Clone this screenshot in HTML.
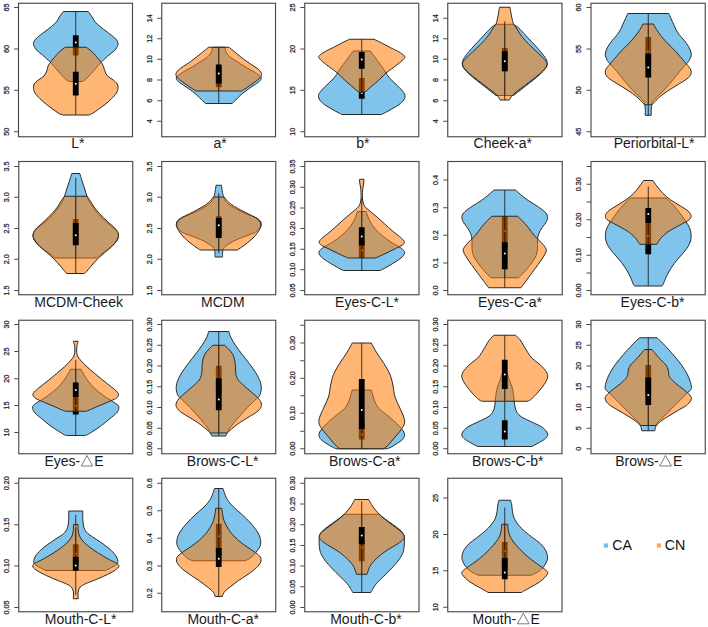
<!DOCTYPE html>
<html><head><meta charset="utf-8"><style>
html,body{margin:0;padding:0;background:#fff;}
body{width:708px;height:627px;overflow:hidden;}
svg{display:block;font-family:"Liberation Sans",sans-serif;}
</style></head><body>
<svg width="708" height="627" viewBox="0 0 708 627">
<rect width="708" height="627" fill="#fff"/>
<g>
<path d="M63.25 11.50 C62.62 12.38 60.62 15.04 59.50 16.75 C58.38 18.46 57.83 20.12 56.50 21.75 C55.17 23.38 53.58 24.75 51.50 26.50 C49.42 28.25 46.46 30.33 44.00 32.25 C41.54 34.17 38.46 36.38 36.75 38.00 C35.04 39.62 34.25 40.79 33.75 42.00 C33.25 43.21 33.25 43.88 33.75 45.25 C34.25 46.62 35.29 48.62 36.75 50.25 C38.21 51.88 40.62 53.38 42.50 55.00 C44.38 56.62 46.67 58.79 48.00 60.00 C49.33 61.21 49.12 60.75 50.50 62.25 C51.88 63.75 54.50 66.96 56.25 69.00 C58.00 71.04 59.38 72.75 61.00 74.50 C62.62 76.25 64.62 78.33 66.00 79.50 C67.38 80.67 68.71 81.17 69.25 81.50 L82.25 81.50 C82.79 81.17 84.12 80.67 85.50 79.50 C86.88 78.33 88.88 76.25 90.50 74.50 C92.12 72.75 93.50 71.04 95.25 69.00 C97.00 66.96 99.62 63.75 101.00 62.25 C102.38 60.75 102.17 61.21 103.50 60.00 C104.83 58.79 107.12 56.62 109.00 55.00 C110.88 53.38 113.29 51.88 114.75 50.25 C116.21 48.62 117.25 46.62 117.75 45.25 C118.25 43.88 118.25 43.21 117.75 42.00 C117.25 40.79 116.46 39.62 114.75 38.00 C113.04 36.38 109.96 34.17 107.50 32.25 C105.04 30.33 102.08 28.25 100.00 26.50 C97.92 24.75 96.33 23.38 95.00 21.75 C93.67 20.12 93.12 18.46 92.00 16.75 C90.88 15.04 88.88 12.38 88.25 11.50 Z" fill="#80c4ec" stroke="#2a2a2a" stroke-width="1.0" stroke-linejoin="round"/>
<line x1="75.75" y1="11.50" x2="75.75" y2="81.25" stroke="#111" stroke-width="0.8"/>
<rect x="72.85" y="35.25" width="5.8" height="20.25" fill="#000"/>
<circle cx="75.75" cy="42.50" r="1" fill="#fff"/>
<path d="M65.25 47.25 C64.29 48.00 61.54 49.79 59.50 51.75 C57.46 53.71 54.50 57.25 53.00 59.00 C51.50 60.75 51.33 61.04 50.50 62.25 C49.67 63.46 48.58 64.92 48.00 66.25 C47.42 67.58 47.67 68.62 47.00 70.25 C46.33 71.88 45.46 74.38 44.00 76.00 C42.54 77.62 39.88 78.67 38.25 80.00 C36.62 81.33 35.04 82.62 34.25 84.00 C33.46 85.38 33.38 86.75 33.50 88.25 C33.62 89.75 33.92 91.25 35.00 93.00 C36.08 94.75 38.08 96.83 40.00 98.75 C41.92 100.67 44.33 102.75 46.50 104.50 C48.67 106.25 50.96 107.79 53.00 109.25 C55.04 110.71 57.12 112.29 58.75 113.25 C60.38 114.21 62.08 114.71 62.75 115.00 L88.75 115.00 C89.42 114.71 91.12 114.21 92.75 113.25 C94.38 112.29 96.46 110.71 98.50 109.25 C100.54 107.79 102.83 106.25 105.00 104.50 C107.17 102.75 109.58 100.67 111.50 98.75 C113.42 96.83 115.42 94.75 116.50 93.00 C117.58 91.25 117.88 89.75 118.00 88.25 C118.12 86.75 118.04 85.38 117.25 84.00 C116.46 82.62 114.88 81.33 113.25 80.00 C111.62 78.67 108.96 77.62 107.50 76.00 C106.04 74.38 105.17 71.88 104.50 70.25 C103.83 68.62 104.08 67.58 103.50 66.25 C102.92 64.92 101.83 63.46 101.00 62.25 C100.17 61.04 100.00 60.75 98.50 59.00 C97.00 57.25 94.04 53.71 92.00 51.75 C89.96 49.79 87.21 48.00 86.25 47.25 Z" fill="rgba(255,120,0,0.54)" stroke="#2a2a2a" stroke-width="1.0" stroke-linejoin="round"/>
<line x1="75.75" y1="47.25" x2="75.75" y2="114.75" stroke="#111" stroke-width="0.8"/>
<rect x="72.85" y="71.75" width="5.8" height="23.75" fill="#000"/>
<circle cx="75.75" cy="83.75" r="1" fill="#fff"/>
<rect x="18.50" y="3.25" width="114.00" height="133.50" fill="none" stroke="#4a4a4a" stroke-width="1.15"/>
<line x1="14.00" y1="7.50" x2="18.50" y2="7.50" stroke="#4a4a4a" stroke-width="1"/>
<text transform="translate(8.70 7.50) rotate(-90)" text-anchor="middle" font-size="7.3" fill="#2c262c" stroke="#2c262c" stroke-width="0.25">65</text>
<line x1="14.00" y1="49.00" x2="18.50" y2="49.00" stroke="#4a4a4a" stroke-width="1"/>
<text transform="translate(8.70 49.00) rotate(-90)" text-anchor="middle" font-size="7.3" fill="#2c262c" stroke="#2c262c" stroke-width="0.25">60</text>
<line x1="14.00" y1="90.25" x2="18.50" y2="90.25" stroke="#4a4a4a" stroke-width="1"/>
<text transform="translate(8.70 90.25) rotate(-90)" text-anchor="middle" font-size="7.3" fill="#2c262c" stroke="#2c262c" stroke-width="0.25">55</text>
<line x1="14.00" y1="131.75" x2="18.50" y2="131.75" stroke="#4a4a4a" stroke-width="1"/>
<text transform="translate(8.70 131.75) rotate(-90)" text-anchor="middle" font-size="7.3" fill="#2c262c" stroke="#2c262c" stroke-width="0.25">50</text>
<text x="77.80" y="147.80" text-anchor="middle" font-size="14" fill="#1a1a1a">L*</text>
</g>
<g>
<path d="M212.25 47.25 C212.21 47.79 212.33 49.38 212.00 50.50 C211.67 51.62 211.12 52.83 210.25 54.00 C209.38 55.17 208.42 56.21 206.75 57.50 C205.08 58.79 202.62 60.21 200.25 61.75 C197.88 63.29 195.21 65.12 192.50 66.75 C189.79 68.38 186.33 70.08 184.00 71.50 C181.67 72.92 179.79 74.17 178.50 75.25 C177.21 76.33 176.29 76.96 176.25 78.00 C176.21 79.04 177.04 80.29 178.25 81.50 C179.46 82.71 181.75 84.04 183.50 85.25 C185.25 86.46 186.67 87.25 188.75 88.75 C190.83 90.25 193.83 92.38 196.00 94.25 C198.17 96.12 200.17 98.46 201.75 100.00 C203.33 101.54 204.88 102.92 205.50 103.50 L232.00 103.50 C232.62 102.92 234.17 101.54 235.75 100.00 C237.33 98.46 239.33 96.12 241.50 94.25 C243.67 92.38 246.67 90.25 248.75 88.75 C250.83 87.25 252.25 86.46 254.00 85.25 C255.75 84.04 258.04 82.71 259.25 81.50 C260.46 80.29 261.29 79.04 261.25 78.00 C261.21 76.96 260.29 76.33 259.00 75.25 C257.71 74.17 255.83 72.92 253.50 71.50 C251.17 70.08 247.71 68.38 245.00 66.75 C242.29 65.12 239.62 63.29 237.25 61.75 C234.88 60.21 232.42 58.79 230.75 57.50 C229.08 56.21 228.12 55.17 227.25 54.00 C226.38 52.83 225.83 51.62 225.50 50.50 C225.17 49.38 225.29 47.79 225.25 47.25 Z" fill="#80c4ec" stroke="#2a2a2a" stroke-width="1.0" stroke-linejoin="round"/>
<line x1="218.75" y1="47.25" x2="218.75" y2="103.50" stroke="#111" stroke-width="0.8"/>
<rect x="215.85" y="67.00" width="5.8" height="20.25" fill="#000"/>
<circle cx="218.75" cy="75.00" r="1" fill="#fff"/>
<path d="M208.50 47.25 C207.83 47.79 205.88 49.38 204.50 50.50 C203.12 51.62 202.00 52.58 200.25 54.00 C198.50 55.42 196.21 57.33 194.00 59.00 C191.79 60.67 189.25 62.46 187.00 64.00 C184.75 65.54 182.21 66.92 180.50 68.25 C178.79 69.58 177.50 70.83 176.75 72.00 C176.00 73.17 175.71 74.12 176.00 75.25 C176.29 76.38 177.17 77.46 178.50 78.75 C179.83 80.04 181.88 81.46 184.00 83.00 C186.12 84.54 189.25 86.67 191.25 88.00 C193.25 89.33 195.21 90.50 196.00 91.00 L241.50 91.00 C242.29 90.50 244.25 89.33 246.25 88.00 C248.25 86.67 251.38 84.54 253.50 83.00 C255.62 81.46 257.67 80.04 259.00 78.75 C260.33 77.46 261.21 76.38 261.50 75.25 C261.79 74.12 261.50 73.17 260.75 72.00 C260.00 70.83 258.71 69.58 257.00 68.25 C255.29 66.92 252.75 65.54 250.50 64.00 C248.25 62.46 245.71 60.67 243.50 59.00 C241.29 57.33 239.00 55.42 237.25 54.00 C235.50 52.58 234.38 51.62 233.00 50.50 C231.62 49.38 229.67 47.79 229.00 47.25 Z" fill="rgba(255,120,0,0.54)" stroke="#2a2a2a" stroke-width="1.0" stroke-linejoin="round"/>
<line x1="218.75" y1="47.25" x2="218.75" y2="91.00" stroke="#111" stroke-width="0.8"/>
<rect x="215.85" y="64.50" width="5.8" height="19.00" fill="#000"/>
<circle cx="218.75" cy="73.50" r="1" fill="#fff"/>
<rect x="161.75" y="3.25" width="113.75" height="133.50" fill="none" stroke="#4a4a4a" stroke-width="1.15"/>
<line x1="157.25" y1="18.25" x2="161.75" y2="18.25" stroke="#4a4a4a" stroke-width="1"/>
<text transform="translate(151.95 18.25) rotate(-90)" text-anchor="middle" font-size="7.3" fill="#2c262c" stroke="#2c262c" stroke-width="0.25">14</text>
<line x1="157.25" y1="38.75" x2="161.75" y2="38.75" stroke="#4a4a4a" stroke-width="1"/>
<text transform="translate(151.95 38.75) rotate(-90)" text-anchor="middle" font-size="7.3" fill="#2c262c" stroke="#2c262c" stroke-width="0.25">12</text>
<line x1="157.25" y1="59.25" x2="161.75" y2="59.25" stroke="#4a4a4a" stroke-width="1"/>
<text transform="translate(151.95 59.25) rotate(-90)" text-anchor="middle" font-size="7.3" fill="#2c262c" stroke="#2c262c" stroke-width="0.25">10</text>
<line x1="157.25" y1="80.00" x2="161.75" y2="80.00" stroke="#4a4a4a" stroke-width="1"/>
<text transform="translate(151.95 80.00) rotate(-90)" text-anchor="middle" font-size="7.3" fill="#2c262c" stroke="#2c262c" stroke-width="0.25">8</text>
<line x1="157.25" y1="100.75" x2="161.75" y2="100.75" stroke="#4a4a4a" stroke-width="1"/>
<text transform="translate(151.95 100.75) rotate(-90)" text-anchor="middle" font-size="7.3" fill="#2c262c" stroke="#2c262c" stroke-width="0.25">6</text>
<line x1="157.25" y1="121.25" x2="161.75" y2="121.25" stroke="#4a4a4a" stroke-width="1"/>
<text transform="translate(151.95 121.25) rotate(-90)" text-anchor="middle" font-size="7.3" fill="#2c262c" stroke="#2c262c" stroke-width="0.25">4</text>
<text x="220.00" y="147.80" text-anchor="middle" font-size="14" fill="#1a1a1a">a*</text>
</g>
<g>
<path d="M353.25 51.00 C352.62 51.83 350.83 54.21 349.50 56.00 C348.17 57.79 346.67 59.83 345.25 61.75 C343.83 63.67 342.29 65.62 341.00 67.50 C339.71 69.38 338.79 71.12 337.50 73.00 C336.21 74.88 335.17 76.62 333.25 78.75 C331.33 80.88 328.12 83.62 326.00 85.75 C323.88 87.88 321.75 89.83 320.50 91.50 C319.25 93.17 318.62 94.33 318.50 95.75 C318.38 97.17 318.71 98.50 319.75 100.00 C320.79 101.50 322.75 103.25 324.75 104.75 C326.75 106.25 329.54 107.71 331.75 109.00 C333.96 110.29 336.29 111.58 338.00 112.50 C339.71 113.42 341.33 114.17 342.00 114.50 L381.50 114.50 C382.17 114.17 383.79 113.42 385.50 112.50 C387.21 111.58 389.54 110.29 391.75 109.00 C393.96 107.71 396.75 106.25 398.75 104.75 C400.75 103.25 402.71 101.50 403.75 100.00 C404.79 98.50 405.12 97.17 405.00 95.75 C404.88 94.33 404.25 93.17 403.00 91.50 C401.75 89.83 399.62 87.88 397.50 85.75 C395.38 83.62 392.17 80.88 390.25 78.75 C388.33 76.62 387.29 74.88 386.00 73.00 C384.71 71.12 383.79 69.38 382.50 67.50 C381.21 65.62 379.67 63.67 378.25 61.75 C376.83 59.83 375.33 57.79 374.00 56.00 C372.67 54.21 370.88 51.83 370.25 51.00 Z" fill="#80c4ec" stroke="#2a2a2a" stroke-width="1.0" stroke-linejoin="round"/>
<line x1="361.75" y1="51.00" x2="361.75" y2="114.50" stroke="#111" stroke-width="0.8"/>
<rect x="358.85" y="78.00" width="5.8" height="20.75" fill="#000"/>
<circle cx="361.75" cy="93.00" r="1" fill="#fff"/>
<path d="M349.50 39.25 C348.21 39.88 344.46 41.62 341.75 43.00 C339.04 44.38 336.08 46.04 333.25 47.50 C330.42 48.96 327.00 50.46 324.75 51.75 C322.50 53.04 320.75 54.33 319.75 55.25 C318.75 56.17 318.62 56.50 318.75 57.25 C318.88 58.00 319.38 58.62 320.50 59.75 C321.62 60.88 323.62 62.50 325.50 64.00 C327.38 65.50 329.75 67.25 331.75 68.75 C333.75 70.25 335.71 71.46 337.50 73.00 C339.29 74.54 340.75 76.33 342.50 78.00 C344.25 79.67 346.25 81.46 348.00 83.00 C349.75 84.54 351.46 85.92 353.00 87.25 C354.54 88.58 356.17 90.17 357.25 91.00 C358.33 91.83 359.12 92.04 359.50 92.25 L364.00 92.25 C364.38 92.04 365.17 91.83 366.25 91.00 C367.33 90.17 368.96 88.58 370.50 87.25 C372.04 85.92 373.75 84.54 375.50 83.00 C377.25 81.46 379.25 79.67 381.00 78.00 C382.75 76.33 384.21 74.54 386.00 73.00 C387.79 71.46 389.75 70.25 391.75 68.75 C393.75 67.25 396.12 65.50 398.00 64.00 C399.88 62.50 401.88 60.88 403.00 59.75 C404.12 58.62 404.62 58.00 404.75 57.25 C404.88 56.50 404.75 56.17 403.75 55.25 C402.75 54.33 401.00 53.04 398.75 51.75 C396.50 50.46 393.08 48.96 390.25 47.50 C387.42 46.04 384.46 44.38 381.75 43.00 C379.04 41.62 375.29 39.88 374.00 39.25 Z" fill="rgba(255,120,0,0.54)" stroke="#2a2a2a" stroke-width="1.0" stroke-linejoin="round"/>
<line x1="361.75" y1="39.25" x2="361.75" y2="93.00" stroke="#111" stroke-width="0.8"/>
<rect x="358.85" y="52.00" width="5.8" height="16.75" fill="#000"/>
<circle cx="361.75" cy="59.50" r="1" fill="#fff"/>
<rect x="304.75" y="3.25" width="114.00" height="133.50" fill="none" stroke="#4a4a4a" stroke-width="1.15"/>
<line x1="300.25" y1="7.50" x2="304.75" y2="7.50" stroke="#4a4a4a" stroke-width="1"/>
<text transform="translate(294.95 7.50) rotate(-90)" text-anchor="middle" font-size="7.3" fill="#2c262c" stroke="#2c262c" stroke-width="0.25">25</text>
<line x1="300.25" y1="49.00" x2="304.75" y2="49.00" stroke="#4a4a4a" stroke-width="1"/>
<text transform="translate(294.95 49.00) rotate(-90)" text-anchor="middle" font-size="7.3" fill="#2c262c" stroke="#2c262c" stroke-width="0.25">20</text>
<line x1="300.25" y1="90.25" x2="304.75" y2="90.25" stroke="#4a4a4a" stroke-width="1"/>
<text transform="translate(294.95 90.25) rotate(-90)" text-anchor="middle" font-size="7.3" fill="#2c262c" stroke="#2c262c" stroke-width="0.25">15</text>
<line x1="300.25" y1="131.75" x2="304.75" y2="131.75" stroke="#4a4a4a" stroke-width="1"/>
<text transform="translate(294.95 131.75) rotate(-90)" text-anchor="middle" font-size="7.3" fill="#2c262c" stroke="#2c262c" stroke-width="0.25">10</text>
<text x="362.75" y="147.80" text-anchor="middle" font-size="14" fill="#1a1a1a">b*</text>
</g>
<g>
<path d="M496.00 24.25 C495.12 24.88 492.83 26.08 490.75 28.00 C488.67 29.92 486.00 33.08 483.50 35.75 C481.00 38.42 478.29 41.21 475.75 44.00 C473.21 46.79 470.29 50.00 468.25 52.50 C466.21 55.00 464.50 57.12 463.50 59.00 C462.50 60.88 462.17 62.17 462.25 63.75 C462.33 65.33 462.75 66.71 464.00 68.50 C465.25 70.29 467.62 72.50 469.75 74.50 C471.88 76.50 474.33 78.54 476.75 80.50 C479.17 82.46 481.96 84.46 484.25 86.25 C486.54 88.04 488.54 89.71 490.50 91.25 C492.46 92.79 495.08 94.79 496.00 95.50 L513.50 95.50 C514.42 94.79 517.04 92.79 519.00 91.25 C520.96 89.71 522.96 88.04 525.25 86.25 C527.54 84.46 530.33 82.46 532.75 80.50 C535.17 78.54 537.62 76.50 539.75 74.50 C541.88 72.50 544.25 70.29 545.50 68.50 C546.75 66.71 547.17 65.33 547.25 63.75 C547.33 62.17 547.00 60.88 546.00 59.00 C545.00 57.12 543.29 55.00 541.25 52.50 C539.21 50.00 536.29 46.79 533.75 44.00 C531.21 41.21 528.50 38.42 526.00 35.75 C523.50 33.08 520.83 29.92 518.75 28.00 C516.67 26.08 514.38 24.88 513.50 24.25 Z" fill="#80c4ec" stroke="#2a2a2a" stroke-width="1.0" stroke-linejoin="round"/>
<line x1="504.75" y1="24.25" x2="504.75" y2="95.75" stroke="#111" stroke-width="0.8"/>
<rect x="501.85" y="48.00" width="5.8" height="23.25" fill="#000"/>
<circle cx="504.75" cy="60.00" r="1" fill="#fff"/>
<path d="M499.50 7.25 C499.29 8.50 498.67 12.54 498.25 14.75 C497.83 16.96 497.38 18.92 497.00 20.50 C496.62 22.08 496.67 23.00 496.00 24.25 C495.33 25.50 494.08 26.38 493.00 28.00 C491.92 29.62 491.00 31.88 489.50 34.00 C488.00 36.12 486.17 38.38 484.00 40.75 C481.83 43.12 479.08 45.75 476.50 48.25 C473.92 50.75 470.62 53.67 468.50 55.75 C466.38 57.83 464.75 59.33 463.75 60.75 C462.75 62.17 462.42 63.00 462.50 64.25 C462.58 65.50 463.00 66.62 464.25 68.25 C465.50 69.88 467.79 72.04 470.00 74.00 C472.21 75.96 475.00 78.04 477.50 80.00 C480.00 81.96 482.62 83.96 485.00 85.75 C487.38 87.54 489.79 89.21 491.75 90.75 C493.71 92.29 495.50 93.75 496.75 95.00 C498.00 96.25 498.71 97.42 499.25 98.25 C499.79 99.08 499.88 99.71 500.00 100.00 L509.50 100.00 C509.62 99.71 509.71 99.08 510.25 98.25 C510.79 97.42 511.50 96.25 512.75 95.00 C514.00 93.75 515.79 92.29 517.75 90.75 C519.71 89.21 522.12 87.54 524.50 85.75 C526.88 83.96 529.50 81.96 532.00 80.00 C534.50 78.04 537.29 75.96 539.50 74.00 C541.71 72.04 544.00 69.88 545.25 68.25 C546.50 66.62 546.92 65.50 547.00 64.25 C547.08 63.00 546.75 62.17 545.75 60.75 C544.75 59.33 543.12 57.83 541.00 55.75 C538.88 53.67 535.58 50.75 533.00 48.25 C530.42 45.75 527.67 43.12 525.50 40.75 C523.33 38.38 521.50 36.12 520.00 34.00 C518.50 31.88 517.58 29.62 516.50 28.00 C515.42 26.38 514.17 25.50 513.50 24.25 C512.83 23.00 512.88 22.08 512.50 20.50 C512.12 18.92 511.67 16.96 511.25 14.75 C510.83 12.54 510.21 8.50 510.00 7.25 Z" fill="rgba(255,120,0,0.54)" stroke="#2a2a2a" stroke-width="1.0" stroke-linejoin="round"/>
<line x1="504.75" y1="21.25" x2="504.75" y2="100.00" stroke="#111" stroke-width="0.8"/>
<rect x="501.85" y="51.25" width="5.8" height="20.00" fill="#000"/>
<circle cx="504.75" cy="61.25" r="1" fill="#fff"/>
<rect x="447.75" y="3.25" width="114.25" height="133.50" fill="none" stroke="#4a4a4a" stroke-width="1.15"/>
<line x1="443.25" y1="18.25" x2="447.75" y2="18.25" stroke="#4a4a4a" stroke-width="1"/>
<text transform="translate(437.95 18.25) rotate(-90)" text-anchor="middle" font-size="7.3" fill="#2c262c" stroke="#2c262c" stroke-width="0.25">14</text>
<line x1="443.25" y1="38.75" x2="447.75" y2="38.75" stroke="#4a4a4a" stroke-width="1"/>
<text transform="translate(437.95 38.75) rotate(-90)" text-anchor="middle" font-size="7.3" fill="#2c262c" stroke="#2c262c" stroke-width="0.25">12</text>
<line x1="443.25" y1="59.25" x2="447.75" y2="59.25" stroke="#4a4a4a" stroke-width="1"/>
<text transform="translate(437.95 59.25) rotate(-90)" text-anchor="middle" font-size="7.3" fill="#2c262c" stroke="#2c262c" stroke-width="0.25">10</text>
<line x1="443.25" y1="80.00" x2="447.75" y2="80.00" stroke="#4a4a4a" stroke-width="1"/>
<text transform="translate(437.95 80.00) rotate(-90)" text-anchor="middle" font-size="7.3" fill="#2c262c" stroke="#2c262c" stroke-width="0.25">8</text>
<line x1="443.25" y1="100.75" x2="447.75" y2="100.75" stroke="#4a4a4a" stroke-width="1"/>
<text transform="translate(437.95 100.75) rotate(-90)" text-anchor="middle" font-size="7.3" fill="#2c262c" stroke="#2c262c" stroke-width="0.25">6</text>
<line x1="443.25" y1="121.25" x2="447.75" y2="121.25" stroke="#4a4a4a" stroke-width="1"/>
<text transform="translate(437.95 121.25) rotate(-90)" text-anchor="middle" font-size="7.3" fill="#2c262c" stroke="#2c262c" stroke-width="0.25">4</text>
<text x="502.75" y="147.80" text-anchor="middle" font-size="14" fill="#1a1a1a">Cheek-a*</text>
</g>
<g>
<path d="M627.75 13.50 C627.38 14.33 626.33 16.67 625.50 18.50 C624.67 20.33 623.58 22.67 622.75 24.50 C621.92 26.33 621.42 27.79 620.50 29.50 C619.58 31.21 618.67 32.88 617.25 34.75 C615.83 36.62 613.54 38.79 612.00 40.75 C610.46 42.71 609.00 44.79 608.00 46.50 C607.00 48.21 606.46 49.54 606.00 51.00 C605.54 52.46 605.08 53.79 605.25 55.25 C605.42 56.71 606.25 58.38 607.00 59.75 C607.75 61.12 608.21 61.67 609.75 63.50 C611.29 65.33 613.96 68.04 616.25 70.75 C618.54 73.46 620.96 76.71 623.50 79.75 C626.04 82.79 628.96 86.25 631.50 89.00 C634.04 91.75 636.79 94.29 638.75 96.25 C640.71 98.21 642.25 99.38 643.25 100.75 C644.25 102.12 644.42 103.12 644.75 104.50 C645.08 105.88 645.17 107.21 645.25 109.00 C645.33 110.79 645.25 114.21 645.25 115.25 L651.25 115.25 C651.25 114.21 651.17 110.79 651.25 109.00 C651.33 107.21 651.42 105.88 651.75 104.50 C652.08 103.12 652.25 102.12 653.25 100.75 C654.25 99.38 655.79 98.21 657.75 96.25 C659.71 94.29 662.46 91.75 665.00 89.00 C667.54 86.25 670.46 82.79 673.00 79.75 C675.54 76.71 677.96 73.46 680.25 70.75 C682.54 68.04 685.21 65.33 686.75 63.50 C688.29 61.67 688.75 61.12 689.50 59.75 C690.25 58.38 691.08 56.71 691.25 55.25 C691.42 53.79 690.96 52.46 690.50 51.00 C690.04 49.54 689.50 48.21 688.50 46.50 C687.50 44.79 686.04 42.71 684.50 40.75 C682.96 38.79 680.67 36.62 679.25 34.75 C677.83 32.88 676.92 31.21 676.00 29.50 C675.08 27.79 674.58 26.33 673.75 24.50 C672.92 22.67 671.83 20.33 671.00 18.50 C670.17 16.67 669.12 14.33 668.75 13.50 Z" fill="#80c4ec" stroke="#2a2a2a" stroke-width="1.0" stroke-linejoin="round"/>
<line x1="648.25" y1="13.75" x2="648.25" y2="115.50" stroke="#111" stroke-width="0.8"/>
<rect x="645.35" y="37.00" width="5.8" height="28.00" fill="#000"/>
<circle cx="648.25" cy="51.25" r="1" fill="#fff"/>
<path d="M643.00 24.00 C642.50 24.92 641.33 27.42 640.00 29.50 C638.67 31.58 636.96 34.08 635.00 36.50 C633.04 38.92 630.67 41.46 628.25 44.00 C625.83 46.54 622.46 49.67 620.50 51.75 C618.54 53.83 618.29 54.42 616.50 56.50 C614.71 58.58 611.46 62.21 609.75 64.25 C608.04 66.29 607.00 67.38 606.25 68.75 C605.50 70.12 605.17 71.25 605.25 72.50 C605.33 73.75 605.83 75.04 606.75 76.25 C607.67 77.46 608.88 78.42 610.75 79.75 C612.62 81.08 615.58 82.75 618.00 84.25 C620.42 85.75 622.83 87.21 625.25 88.75 C627.67 90.29 630.38 91.96 632.50 93.50 C634.62 95.04 636.33 96.50 638.00 98.00 C639.67 99.50 641.42 101.38 642.50 102.50 C643.58 103.62 644.17 104.38 644.50 104.75 L652.00 104.75 C652.33 104.38 652.92 103.62 654.00 102.50 C655.08 101.38 656.83 99.50 658.50 98.00 C660.17 96.50 661.88 95.04 664.00 93.50 C666.12 91.96 668.83 90.29 671.25 88.75 C673.67 87.21 676.08 85.75 678.50 84.25 C680.92 82.75 683.88 81.08 685.75 79.75 C687.62 78.42 688.83 77.46 689.75 76.25 C690.67 75.04 691.17 73.75 691.25 72.50 C691.33 71.25 691.00 70.12 690.25 68.75 C689.50 67.38 688.46 66.29 686.75 64.25 C685.04 62.21 681.79 58.58 680.00 56.50 C678.21 54.42 677.96 53.83 676.00 51.75 C674.04 49.67 670.67 46.54 668.25 44.00 C665.83 41.46 663.46 38.92 661.50 36.50 C659.54 34.08 657.83 31.58 656.50 29.50 C655.17 27.42 654.00 24.92 653.50 24.00 Z" fill="rgba(255,120,0,0.54)" stroke="#2a2a2a" stroke-width="1.0" stroke-linejoin="round"/>
<line x1="648.25" y1="24.25" x2="648.25" y2="103.75" stroke="#111" stroke-width="0.8"/>
<rect x="645.35" y="53.75" width="5.8" height="23.75" fill="#000"/>
<circle cx="648.25" cy="67.50" r="1" fill="#fff"/>
<rect x="591.00" y="3.25" width="114.25" height="133.50" fill="none" stroke="#4a4a4a" stroke-width="1.15"/>
<line x1="586.50" y1="7.50" x2="591.00" y2="7.50" stroke="#4a4a4a" stroke-width="1"/>
<text transform="translate(581.20 7.50) rotate(-90)" text-anchor="middle" font-size="7.3" fill="#2c262c" stroke="#2c262c" stroke-width="0.25">60</text>
<line x1="586.50" y1="49.00" x2="591.00" y2="49.00" stroke="#4a4a4a" stroke-width="1"/>
<text transform="translate(581.20 49.00) rotate(-90)" text-anchor="middle" font-size="7.3" fill="#2c262c" stroke="#2c262c" stroke-width="0.25">55</text>
<line x1="586.50" y1="90.25" x2="591.00" y2="90.25" stroke="#4a4a4a" stroke-width="1"/>
<text transform="translate(581.20 90.25) rotate(-90)" text-anchor="middle" font-size="7.3" fill="#2c262c" stroke="#2c262c" stroke-width="0.25">50</text>
<line x1="586.50" y1="131.75" x2="591.00" y2="131.75" stroke="#4a4a4a" stroke-width="1"/>
<text transform="translate(581.20 131.75) rotate(-90)" text-anchor="middle" font-size="7.3" fill="#2c262c" stroke="#2c262c" stroke-width="0.25">45</text>
<text x="654.10" y="147.80" text-anchor="middle" font-size="14" fill="#1a1a1a">Periorbital-L*</text>
</g>
<g>
<path d="M71.75 173.50 C71.38 174.71 70.33 178.17 69.50 180.75 C68.67 183.33 67.58 186.42 66.75 189.00 C65.92 191.58 65.25 194.17 64.50 196.25 C63.75 198.33 63.54 199.25 62.25 201.50 C60.96 203.75 58.88 207.00 56.75 209.75 C54.62 212.50 51.92 215.58 49.50 218.00 C47.08 220.42 44.50 222.29 42.25 224.25 C40.00 226.21 37.50 228.04 36.00 229.75 C34.50 231.46 33.62 232.96 33.25 234.50 C32.88 236.04 33.17 237.50 33.75 239.00 C34.33 240.50 35.17 241.83 36.75 243.50 C38.33 245.17 40.96 247.17 43.25 249.00 C45.54 250.83 48.58 253.00 50.50 254.50 C52.42 256.00 54.04 257.42 54.75 258.00 L96.75 258.00 C97.46 257.42 99.08 256.00 101.00 254.50 C102.92 253.00 105.96 250.83 108.25 249.00 C110.54 247.17 113.17 245.17 114.75 243.50 C116.33 241.83 117.17 240.50 117.75 239.00 C118.33 237.50 118.62 236.04 118.25 234.50 C117.88 232.96 117.00 231.46 115.50 229.75 C114.00 228.04 111.50 226.21 109.25 224.25 C107.00 222.29 104.42 220.42 102.00 218.00 C99.58 215.58 96.88 212.50 94.75 209.75 C92.62 207.00 90.54 203.75 89.25 201.50 C87.96 199.25 87.75 198.33 87.00 196.25 C86.25 194.17 85.58 191.58 84.75 189.00 C83.92 186.42 82.83 183.33 82.00 180.75 C81.17 178.17 80.12 174.71 79.75 173.50 Z" fill="#80c4ec" stroke="#2a2a2a" stroke-width="1.0" stroke-linejoin="round"/>
<line x1="75.75" y1="178.00" x2="75.75" y2="258.50" stroke="#111" stroke-width="0.8"/>
<rect x="72.85" y="219.00" width="5.8" height="24.50" fill="#000"/>
<circle cx="75.75" cy="233.50" r="1" fill="#fff"/>
<path d="M64.50 196.25 C63.96 197.00 62.42 198.96 61.25 200.75 C60.08 202.54 59.04 204.88 57.50 207.00 C55.96 209.12 54.25 211.08 52.00 213.50 C49.75 215.92 46.54 219.08 44.00 221.50 C41.46 223.92 38.50 226.17 36.75 228.00 C35.00 229.83 34.12 231.12 33.50 232.50 C32.88 233.88 32.75 234.88 33.00 236.25 C33.25 237.62 33.92 239.08 35.00 240.75 C36.08 242.42 37.54 244.29 39.50 246.25 C41.46 248.21 44.33 250.38 46.75 252.50 C49.17 254.62 51.71 256.71 54.00 259.00 C56.29 261.29 58.54 264.00 60.50 266.25 C62.46 268.50 64.67 271.29 65.75 272.50 C66.83 273.71 66.79 273.33 67.00 273.50 L84.50 273.50 C84.71 273.33 84.67 273.71 85.75 272.50 C86.83 271.29 89.04 268.50 91.00 266.25 C92.96 264.00 95.21 261.29 97.50 259.00 C99.79 256.71 102.33 254.62 104.75 252.50 C107.17 250.38 110.04 248.21 112.00 246.25 C113.96 244.29 115.42 242.42 116.50 240.75 C117.58 239.08 118.25 237.62 118.50 236.25 C118.75 234.88 118.62 233.88 118.00 232.50 C117.38 231.12 116.50 229.83 114.75 228.00 C113.00 226.17 110.04 223.92 107.50 221.50 C104.96 219.08 101.75 215.92 99.50 213.50 C97.25 211.08 95.54 209.12 94.00 207.00 C92.46 204.88 91.42 202.54 90.25 200.75 C89.08 198.96 87.54 197.00 87.00 196.25 Z" fill="rgba(255,120,0,0.54)" stroke="#2a2a2a" stroke-width="1.0" stroke-linejoin="round"/>
<line x1="75.75" y1="196.50" x2="75.75" y2="273.50" stroke="#111" stroke-width="0.8"/>
<rect x="72.85" y="223.00" width="5.8" height="22.25" fill="#000"/>
<circle cx="75.75" cy="235.25" r="1" fill="#fff"/>
<rect x="18.75" y="161.50" width="114.00" height="133.25" fill="none" stroke="#4a4a4a" stroke-width="1.15"/>
<line x1="14.25" y1="166.50" x2="18.75" y2="166.50" stroke="#4a4a4a" stroke-width="1"/>
<text transform="translate(8.95 166.50) rotate(-90)" text-anchor="middle" font-size="7.3" fill="#2c262c" stroke="#2c262c" stroke-width="0.25">3.5</text>
<line x1="14.25" y1="197.25" x2="18.75" y2="197.25" stroke="#4a4a4a" stroke-width="1"/>
<text transform="translate(8.95 197.25) rotate(-90)" text-anchor="middle" font-size="7.3" fill="#2c262c" stroke="#2c262c" stroke-width="0.25">3.0</text>
<line x1="14.25" y1="228.50" x2="18.75" y2="228.50" stroke="#4a4a4a" stroke-width="1"/>
<text transform="translate(8.95 228.50) rotate(-90)" text-anchor="middle" font-size="7.3" fill="#2c262c" stroke="#2c262c" stroke-width="0.25">2.5</text>
<line x1="14.25" y1="259.25" x2="18.75" y2="259.25" stroke="#4a4a4a" stroke-width="1"/>
<text transform="translate(8.95 259.25) rotate(-90)" text-anchor="middle" font-size="7.3" fill="#2c262c" stroke="#2c262c" stroke-width="0.25">2.0</text>
<line x1="14.25" y1="290.50" x2="18.75" y2="290.50" stroke="#4a4a4a" stroke-width="1"/>
<text transform="translate(8.95 290.50) rotate(-90)" text-anchor="middle" font-size="7.3" fill="#2c262c" stroke="#2c262c" stroke-width="0.25">1.5</text>
<text x="78.60" y="306.70" text-anchor="middle" font-size="14" fill="#1a1a1a">MCDM-Cheek</text>
</g>
<g>
<path d="M216.00 185.25 C215.92 185.92 215.75 187.62 215.50 189.25 C215.25 190.88 214.79 193.71 214.50 195.00 C214.21 196.29 214.00 196.25 213.75 197.00 C213.50 197.75 213.46 198.62 213.00 199.50 C212.54 200.38 211.92 201.29 211.00 202.25 C210.08 203.21 209.04 204.17 207.50 205.25 C205.96 206.33 203.79 207.62 201.75 208.75 C199.71 209.88 197.54 210.92 195.25 212.00 C192.96 213.08 190.29 214.29 188.00 215.25 C185.71 216.21 183.25 216.83 181.50 217.75 C179.75 218.67 178.38 219.62 177.50 220.75 C176.62 221.88 176.17 223.17 176.25 224.50 C176.33 225.83 177.00 227.46 178.00 228.75 C179.00 230.04 180.33 231.17 182.25 232.25 C184.17 233.33 187.08 234.29 189.50 235.25 C191.92 236.21 194.38 237.04 196.75 238.00 C199.12 238.96 201.62 239.92 203.75 241.00 C205.88 242.08 207.83 243.33 209.50 244.50 C211.17 245.67 212.92 247.04 213.75 248.00 C214.58 248.96 214.29 249.38 214.50 250.25 C214.71 251.12 214.92 252.12 215.00 253.25 C215.08 254.38 215.00 256.38 215.00 257.00 L222.50 257.00 C222.50 256.38 222.42 254.38 222.50 253.25 C222.58 252.12 222.79 251.12 223.00 250.25 C223.21 249.38 222.92 248.96 223.75 248.00 C224.58 247.04 226.33 245.67 228.00 244.50 C229.67 243.33 231.62 242.08 233.75 241.00 C235.88 239.92 238.38 238.96 240.75 238.00 C243.12 237.04 245.58 236.21 248.00 235.25 C250.42 234.29 253.33 233.33 255.25 232.25 C257.17 231.17 258.50 230.04 259.50 228.75 C260.50 227.46 261.17 225.83 261.25 224.50 C261.33 223.17 260.88 221.88 260.00 220.75 C259.12 219.62 257.75 218.67 256.00 217.75 C254.25 216.83 251.79 216.21 249.50 215.25 C247.21 214.29 244.54 213.08 242.25 212.00 C239.96 210.92 237.79 209.88 235.75 208.75 C233.71 207.62 231.54 206.33 230.00 205.25 C228.46 204.17 227.42 203.21 226.50 202.25 C225.58 201.29 224.96 200.38 224.50 199.50 C224.04 198.62 224.00 197.75 223.75 197.00 C223.50 196.25 223.29 196.29 223.00 195.00 C222.71 193.71 222.25 190.88 222.00 189.25 C221.75 187.62 221.58 185.92 221.50 185.25 Z" fill="#80c4ec" stroke="#2a2a2a" stroke-width="1.0" stroke-linejoin="round"/>
<line x1="218.75" y1="193.00" x2="218.75" y2="253.25" stroke="#111" stroke-width="0.8"/>
<rect x="215.85" y="216.25" width="5.8" height="19.75" fill="#000"/>
<circle cx="218.75" cy="224.75" r="1" fill="#fff"/>
<path d="M213.25 197.00 C212.88 197.50 211.88 199.00 211.00 200.00 C210.12 201.00 209.33 201.92 208.00 203.00 C206.67 204.08 204.88 205.33 203.00 206.50 C201.12 207.67 199.00 208.79 196.75 210.00 C194.50 211.21 191.88 212.54 189.50 213.75 C187.12 214.96 184.38 216.08 182.50 217.25 C180.62 218.42 179.21 219.67 178.25 220.75 C177.29 221.83 176.92 222.54 176.75 223.75 C176.58 224.96 176.67 226.46 177.25 228.00 C177.83 229.54 179.04 231.33 180.25 233.00 C181.46 234.67 182.83 236.33 184.50 238.00 C186.17 239.67 188.33 241.46 190.25 243.00 C192.17 244.54 194.33 246.08 196.00 247.25 C197.67 248.42 199.54 249.54 200.25 250.00 L237.25 250.00 C237.96 249.54 239.83 248.42 241.50 247.25 C243.17 246.08 245.33 244.54 247.25 243.00 C249.17 241.46 251.33 239.67 253.00 238.00 C254.67 236.33 256.04 234.67 257.25 233.00 C258.46 231.33 259.67 229.54 260.25 228.00 C260.83 226.46 260.92 224.96 260.75 223.75 C260.58 222.54 260.21 221.83 259.25 220.75 C258.29 219.67 256.88 218.42 255.00 217.25 C253.12 216.08 250.38 214.96 248.00 213.75 C245.62 212.54 243.00 211.21 240.75 210.00 C238.50 208.79 236.38 207.67 234.50 206.50 C232.62 205.33 230.83 204.08 229.50 203.00 C228.17 201.92 227.38 201.00 226.50 200.00 C225.62 199.00 224.62 197.50 224.25 197.00 Z" fill="rgba(255,120,0,0.54)" stroke="#2a2a2a" stroke-width="1.0" stroke-linejoin="round"/>
<line x1="218.75" y1="197.00" x2="218.75" y2="250.00" stroke="#111" stroke-width="0.8"/>
<rect x="215.85" y="218.00" width="5.8" height="20.00" fill="#000"/>
<circle cx="218.75" cy="225.25" r="1" fill="#fff"/>
<rect x="161.75" y="161.50" width="114.00" height="133.25" fill="none" stroke="#4a4a4a" stroke-width="1.15"/>
<line x1="157.25" y1="166.50" x2="161.75" y2="166.50" stroke="#4a4a4a" stroke-width="1"/>
<text transform="translate(151.95 166.50) rotate(-90)" text-anchor="middle" font-size="7.3" fill="#2c262c" stroke="#2c262c" stroke-width="0.25">3.5</text>
<line x1="157.25" y1="197.25" x2="161.75" y2="197.25" stroke="#4a4a4a" stroke-width="1"/>
<text transform="translate(151.95 197.25) rotate(-90)" text-anchor="middle" font-size="7.3" fill="#2c262c" stroke="#2c262c" stroke-width="0.25">3.0</text>
<line x1="157.25" y1="228.50" x2="161.75" y2="228.50" stroke="#4a4a4a" stroke-width="1"/>
<text transform="translate(151.95 228.50) rotate(-90)" text-anchor="middle" font-size="7.3" fill="#2c262c" stroke="#2c262c" stroke-width="0.25">2.5</text>
<line x1="157.25" y1="259.25" x2="161.75" y2="259.25" stroke="#4a4a4a" stroke-width="1"/>
<text transform="translate(151.95 259.25) rotate(-90)" text-anchor="middle" font-size="7.3" fill="#2c262c" stroke="#2c262c" stroke-width="0.25">2.0</text>
<line x1="157.25" y1="290.50" x2="161.75" y2="290.50" stroke="#4a4a4a" stroke-width="1"/>
<text transform="translate(151.95 290.50) rotate(-90)" text-anchor="middle" font-size="7.3" fill="#2c262c" stroke="#2c262c" stroke-width="0.25">1.5</text>
<text x="222.80" y="306.70" text-anchor="middle" font-size="14" fill="#1a1a1a">MCDM</text>
</g>
<g>
<path d="M357.25 211.50 C357.00 212.33 356.50 214.62 355.75 216.50 C355.00 218.38 354.04 220.62 352.75 222.75 C351.46 224.88 349.88 227.12 348.00 229.25 C346.12 231.38 344.04 233.38 341.50 235.50 C338.96 237.62 335.79 240.00 332.75 242.00 C329.71 244.00 325.50 245.96 323.25 247.50 C321.00 249.04 319.92 250.17 319.25 251.25 C318.58 252.33 318.71 252.88 319.25 254.00 C319.79 255.12 320.79 256.54 322.50 258.00 C324.21 259.46 327.00 261.17 329.50 262.75 C332.00 264.33 335.21 266.21 337.50 267.50 C339.79 268.79 342.29 270.00 343.25 270.50 L380.25 270.50 C381.21 270.00 383.71 268.79 386.00 267.50 C388.29 266.21 391.50 264.33 394.00 262.75 C396.50 261.17 399.29 259.46 401.00 258.00 C402.71 256.54 403.71 255.12 404.25 254.00 C404.79 252.88 404.92 252.33 404.25 251.25 C403.58 250.17 402.50 249.04 400.25 247.50 C398.00 245.96 393.79 244.00 390.75 242.00 C387.71 240.00 384.54 237.62 382.00 235.50 C379.46 233.38 377.38 231.38 375.50 229.25 C373.62 227.12 372.04 224.88 370.75 222.75 C369.46 220.62 368.50 218.38 367.75 216.50 C367.00 214.62 366.50 212.33 366.25 211.50 Z" fill="#80c4ec" stroke="#2a2a2a" stroke-width="1.0" stroke-linejoin="round"/>
<line x1="361.75" y1="211.50" x2="361.75" y2="270.50" stroke="#111" stroke-width="0.8"/>
<rect x="358.85" y="241.00" width="5.8" height="17.00" fill="#000"/>
<circle cx="361.75" cy="250.50" r="1" fill="#fff"/>
<path d="M359.50 179.25 C359.54 179.88 359.58 181.71 359.75 183.00 C359.92 184.29 360.29 185.42 360.50 187.00 C360.71 188.58 360.92 190.50 361.00 192.50 C361.08 194.50 361.21 197.00 361.00 199.00 C360.79 201.00 360.33 203.04 359.75 204.50 C359.17 205.96 358.67 206.54 357.50 207.75 C356.33 208.96 354.62 210.17 352.75 211.75 C350.88 213.33 348.54 215.25 346.25 217.25 C343.96 219.25 341.50 221.50 339.00 223.75 C336.50 226.00 333.75 228.62 331.25 230.75 C328.75 232.88 325.88 234.92 324.00 236.50 C322.12 238.08 320.79 239.21 320.00 240.25 C319.21 241.29 319.00 241.92 319.25 242.75 C319.50 243.58 320.04 244.29 321.50 245.25 C322.96 246.21 325.33 247.17 328.00 248.50 C330.67 249.83 334.83 251.96 337.50 253.25 C340.17 254.54 342.25 255.46 344.00 256.25 C345.75 257.04 347.33 257.71 348.00 258.00 L375.50 258.00 C376.17 257.71 377.75 257.04 379.50 256.25 C381.25 255.46 383.33 254.54 386.00 253.25 C388.67 251.96 392.83 249.83 395.50 248.50 C398.17 247.17 400.54 246.21 402.00 245.25 C403.46 244.29 404.00 243.58 404.25 242.75 C404.50 241.92 404.29 241.29 403.50 240.25 C402.71 239.21 401.38 238.08 399.50 236.50 C397.62 234.92 394.75 232.88 392.25 230.75 C389.75 228.62 387.00 226.00 384.50 223.75 C382.00 221.50 379.54 219.25 377.25 217.25 C374.96 215.25 372.62 213.33 370.75 211.75 C368.88 210.17 367.17 208.96 366.00 207.75 C364.83 206.54 364.33 205.96 363.75 204.50 C363.17 203.04 362.71 201.00 362.50 199.00 C362.29 197.00 362.42 194.50 362.50 192.50 C362.58 190.50 362.79 188.58 363.00 187.00 C363.21 185.42 363.58 184.29 363.75 183.00 C363.92 181.71 363.96 179.88 364.00 179.25 Z" fill="rgba(255,120,0,0.54)" stroke="#2a2a2a" stroke-width="1.0" stroke-linejoin="round"/>
<line x1="361.75" y1="198.50" x2="361.75" y2="258.00" stroke="#111" stroke-width="0.8"/>
<rect x="358.85" y="227.25" width="5.8" height="18.25" fill="#000"/>
<circle cx="361.75" cy="236.50" r="1" fill="#fff"/>
<rect x="304.75" y="161.50" width="114.25" height="133.25" fill="none" stroke="#4a4a4a" stroke-width="1.15"/>
<line x1="300.25" y1="166.50" x2="304.75" y2="166.50" stroke="#4a4a4a" stroke-width="1"/>
<text transform="translate(294.95 166.50) rotate(-90)" text-anchor="middle" font-size="7.3" fill="#2c262c" stroke="#2c262c" stroke-width="0.25">0.35</text>
<line x1="300.25" y1="187.25" x2="304.75" y2="187.25" stroke="#4a4a4a" stroke-width="1"/>
<text transform="translate(294.95 187.25) rotate(-90)" text-anchor="middle" font-size="7.3" fill="#2c262c" stroke="#2c262c" stroke-width="0.25">0.30</text>
<line x1="300.25" y1="208.00" x2="304.75" y2="208.00" stroke="#4a4a4a" stroke-width="1"/>
<text transform="translate(294.95 208.00) rotate(-90)" text-anchor="middle" font-size="7.3" fill="#2c262c" stroke="#2c262c" stroke-width="0.25">0.25</text>
<line x1="300.25" y1="228.50" x2="304.75" y2="228.50" stroke="#4a4a4a" stroke-width="1"/>
<text transform="translate(294.95 228.50) rotate(-90)" text-anchor="middle" font-size="7.3" fill="#2c262c" stroke="#2c262c" stroke-width="0.25">0.20</text>
<line x1="300.25" y1="249.25" x2="304.75" y2="249.25" stroke="#4a4a4a" stroke-width="1"/>
<text transform="translate(294.95 249.25) rotate(-90)" text-anchor="middle" font-size="7.3" fill="#2c262c" stroke="#2c262c" stroke-width="0.25">0.15</text>
<line x1="300.25" y1="269.75" x2="304.75" y2="269.75" stroke="#4a4a4a" stroke-width="1"/>
<text transform="translate(294.95 269.75) rotate(-90)" text-anchor="middle" font-size="7.3" fill="#2c262c" stroke="#2c262c" stroke-width="0.25">0.10</text>
<line x1="300.25" y1="290.50" x2="304.75" y2="290.50" stroke="#4a4a4a" stroke-width="1"/>
<text transform="translate(294.95 290.50) rotate(-90)" text-anchor="middle" font-size="7.3" fill="#2c262c" stroke="#2c262c" stroke-width="0.25">0.05</text>
<text x="367.00" y="306.70" text-anchor="middle" font-size="14" fill="#1a1a1a">Eyes-C-L*</text>
</g>
<g>
<path d="M494.00 190.00 C493.21 190.71 491.38 192.50 489.25 194.25 C487.12 196.00 484.17 198.46 481.25 200.50 C478.33 202.54 474.50 204.62 471.75 206.50 C469.00 208.38 466.38 210.12 464.75 211.75 C463.12 213.38 462.29 214.62 462.00 216.25 C461.71 217.88 462.12 219.62 463.00 221.50 C463.88 223.38 465.96 225.46 467.25 227.50 C468.54 229.54 469.96 231.67 470.75 233.75 C471.54 235.83 471.79 237.50 472.00 240.00 C472.21 242.50 471.75 246.12 472.00 248.75 C472.25 251.38 472.54 253.42 473.50 255.75 C474.46 258.08 475.88 260.12 477.75 262.75 C479.62 265.38 482.71 269.17 484.75 271.50 C486.79 273.83 488.96 275.71 490.00 276.75 C491.04 277.79 490.83 277.58 491.00 277.75 L518.50 277.75 C518.67 277.58 518.46 277.79 519.50 276.75 C520.54 275.71 522.71 273.83 524.75 271.50 C526.79 269.17 529.88 265.38 531.75 262.75 C533.62 260.12 535.04 258.08 536.00 255.75 C536.96 253.42 537.25 251.38 537.50 248.75 C537.75 246.12 537.29 242.50 537.50 240.00 C537.71 237.50 537.96 235.83 538.75 233.75 C539.54 231.67 540.96 229.54 542.25 227.50 C543.54 225.46 545.62 223.38 546.50 221.50 C547.38 219.62 547.79 217.88 547.50 216.25 C547.21 214.62 546.38 213.38 544.75 211.75 C543.12 210.12 540.50 208.38 537.75 206.50 C535.00 204.62 531.17 202.54 528.25 200.50 C525.33 198.46 522.38 196.00 520.25 194.25 C518.12 192.50 516.29 190.71 515.50 190.00 Z" fill="#80c4ec" stroke="#2a2a2a" stroke-width="1.0" stroke-linejoin="round"/>
<line x1="504.75" y1="190.00" x2="504.75" y2="277.75" stroke="#111" stroke-width="0.8"/>
<rect x="501.85" y="216.00" width="5.8" height="32.50" fill="#000"/>
<circle cx="504.75" cy="231.00" r="1" fill="#fff"/>
<path d="M492.00 216.25 C491.25 216.96 489.29 218.62 487.50 220.50 C485.71 222.38 483.29 225.00 481.25 227.50 C479.21 230.00 477.42 233.00 475.25 235.50 C473.08 238.00 470.21 240.29 468.25 242.50 C466.29 244.71 464.21 247.00 463.50 248.75 C462.79 250.50 463.21 251.12 464.00 253.00 C464.79 254.88 466.38 257.21 468.25 260.00 C470.12 262.79 472.79 266.38 475.25 269.75 C477.71 273.12 480.83 277.33 483.00 280.25 C485.17 283.17 487.29 286.00 488.25 287.25 C489.21 288.50 488.67 287.67 488.75 287.75 L520.75 287.75 C520.83 287.67 520.29 288.50 521.25 287.25 C522.21 286.00 524.33 283.17 526.50 280.25 C528.67 277.33 531.79 273.12 534.25 269.75 C536.71 266.38 539.38 262.79 541.25 260.00 C543.12 257.21 544.71 254.88 545.50 253.00 C546.29 251.12 546.71 250.50 546.00 248.75 C545.29 247.00 543.21 244.71 541.25 242.50 C539.29 240.29 536.42 238.00 534.25 235.50 C532.08 233.00 530.29 230.00 528.25 227.50 C526.21 225.00 523.79 222.38 522.00 220.50 C520.21 218.62 518.25 216.96 517.50 216.25 Z" fill="rgba(255,120,0,0.54)" stroke="#2a2a2a" stroke-width="1.0" stroke-linejoin="round"/>
<line x1="504.75" y1="216.25" x2="504.75" y2="287.75" stroke="#111" stroke-width="0.8"/>
<rect x="501.85" y="242.25" width="5.8" height="27.00" fill="#000"/>
<circle cx="504.75" cy="253.50" r="1" fill="#fff"/>
<rect x="447.75" y="161.50" width="114.50" height="133.25" fill="none" stroke="#4a4a4a" stroke-width="1.15"/>
<line x1="443.25" y1="180.00" x2="447.75" y2="180.00" stroke="#4a4a4a" stroke-width="1"/>
<text transform="translate(437.95 180.00) rotate(-90)" text-anchor="middle" font-size="7.3" fill="#2c262c" stroke="#2c262c" stroke-width="0.25">0.4</text>
<line x1="443.25" y1="207.75" x2="447.75" y2="207.75" stroke="#4a4a4a" stroke-width="1"/>
<text transform="translate(437.95 207.75) rotate(-90)" text-anchor="middle" font-size="7.3" fill="#2c262c" stroke="#2c262c" stroke-width="0.25">0.3</text>
<line x1="443.25" y1="235.25" x2="447.75" y2="235.25" stroke="#4a4a4a" stroke-width="1"/>
<text transform="translate(437.95 235.25) rotate(-90)" text-anchor="middle" font-size="7.3" fill="#2c262c" stroke="#2c262c" stroke-width="0.25">0.2</text>
<line x1="443.25" y1="263.00" x2="447.75" y2="263.00" stroke="#4a4a4a" stroke-width="1"/>
<text transform="translate(437.95 263.00) rotate(-90)" text-anchor="middle" font-size="7.3" fill="#2c262c" stroke="#2c262c" stroke-width="0.25">0.1</text>
<line x1="443.25" y1="290.50" x2="447.75" y2="290.50" stroke="#4a4a4a" stroke-width="1"/>
<text transform="translate(437.95 290.50) rotate(-90)" text-anchor="middle" font-size="7.3" fill="#2c262c" stroke="#2c262c" stroke-width="0.25">0.0</text>
<text x="510.00" y="306.70" text-anchor="middle" font-size="14" fill="#1a1a1a">Eyes-C-a*</text>
</g>
<g>
<path d="M630.50 198.00 C629.33 199.12 625.71 202.38 623.50 204.75 C621.29 207.12 619.33 209.54 617.25 212.25 C615.17 214.96 612.67 218.50 611.00 221.00 C609.33 223.50 608.17 225.17 607.25 227.25 C606.33 229.33 605.71 231.21 605.50 233.50 C605.29 235.79 605.29 238.50 606.00 241.00 C606.71 243.50 608.08 246.00 609.75 248.50 C611.42 251.00 613.92 253.50 616.00 256.00 C618.08 258.50 620.38 261.00 622.25 263.50 C624.12 266.00 625.79 268.50 627.25 271.00 C628.71 273.50 629.96 276.21 631.00 278.50 C632.04 280.79 632.88 283.50 633.50 284.75 C634.12 286.00 634.54 285.79 634.75 286.00 L661.75 286.00 C661.96 285.79 662.38 286.00 663.00 284.75 C663.62 283.50 664.46 280.79 665.50 278.50 C666.54 276.21 667.79 273.50 669.25 271.00 C670.71 268.50 672.38 266.00 674.25 263.50 C676.12 261.00 678.42 258.50 680.50 256.00 C682.58 253.50 685.08 251.00 686.75 248.50 C688.42 246.00 689.79 243.50 690.50 241.00 C691.21 238.50 691.21 235.79 691.00 233.50 C690.79 231.21 690.17 229.33 689.25 227.25 C688.33 225.17 687.17 223.50 685.50 221.00 C683.83 218.50 681.33 214.96 679.25 212.25 C677.17 209.54 675.21 207.12 673.00 204.75 C670.79 202.38 667.17 199.12 666.00 198.00 Z" fill="#80c4ec" stroke="#2a2a2a" stroke-width="1.0" stroke-linejoin="round"/>
<line x1="648.25" y1="198.00" x2="648.25" y2="286.00" stroke="#111" stroke-width="0.8"/>
<rect x="645.35" y="223.00" width="5.8" height="31.25" fill="#000"/>
<circle cx="648.25" cy="236.00" r="1" fill="#fff"/>
<path d="M643.50 180.50 C642.88 181.42 641.42 183.83 639.75 186.00 C638.08 188.17 635.79 191.21 633.50 193.50 C631.21 195.79 628.92 197.67 626.00 199.75 C623.08 201.83 618.92 204.12 616.00 206.00 C613.08 207.88 610.25 209.42 608.50 211.00 C606.75 212.58 605.71 214.04 605.50 215.50 C605.29 216.96 605.50 218.21 607.25 219.75 C609.00 221.29 612.67 222.88 616.00 224.75 C619.33 226.62 624.12 228.92 627.25 231.00 C630.38 233.08 632.88 235.38 634.75 237.25 C636.62 239.12 637.67 241.08 638.50 242.25 C639.33 243.42 639.54 243.92 639.75 244.25 L656.75 244.25 C656.96 243.92 657.17 243.42 658.00 242.25 C658.83 241.08 659.88 239.12 661.75 237.25 C663.62 235.38 666.12 233.08 669.25 231.00 C672.38 228.92 677.17 226.62 680.50 224.75 C683.83 222.88 687.50 221.29 689.25 219.75 C691.00 218.21 691.21 216.96 691.00 215.50 C690.79 214.04 689.75 212.58 688.00 211.00 C686.25 209.42 683.42 207.88 680.50 206.00 C677.58 204.12 673.42 201.83 670.50 199.75 C667.58 197.67 665.29 195.79 663.00 193.50 C660.71 191.21 658.42 188.17 656.75 186.00 C655.08 183.83 653.62 181.42 653.00 180.50 Z" fill="rgba(255,120,0,0.54)" stroke="#2a2a2a" stroke-width="1.0" stroke-linejoin="round"/>
<line x1="648.25" y1="186.50" x2="648.25" y2="244.25" stroke="#111" stroke-width="0.8"/>
<rect x="645.35" y="208.00" width="5.8" height="15.00" fill="#000"/>
<circle cx="648.25" cy="214.00" r="1" fill="#fff"/>
<rect x="591.00" y="161.50" width="114.25" height="133.25" fill="none" stroke="#4a4a4a" stroke-width="1.15"/>
<line x1="586.50" y1="166.50" x2="591.00" y2="166.50" stroke="#4a4a4a" stroke-width="1"/>
<line x1="586.50" y1="184.25" x2="591.00" y2="184.25" stroke="#4a4a4a" stroke-width="1"/>
<text transform="translate(581.20 184.25) rotate(-90)" text-anchor="middle" font-size="7.3" fill="#2c262c" stroke="#2c262c" stroke-width="0.25">0.30</text>
<line x1="586.50" y1="202.00" x2="591.00" y2="202.00" stroke="#4a4a4a" stroke-width="1"/>
<line x1="586.50" y1="219.75" x2="591.00" y2="219.75" stroke="#4a4a4a" stroke-width="1"/>
<text transform="translate(581.20 219.75) rotate(-90)" text-anchor="middle" font-size="7.3" fill="#2c262c" stroke="#2c262c" stroke-width="0.25">0.20</text>
<line x1="586.50" y1="237.50" x2="591.00" y2="237.50" stroke="#4a4a4a" stroke-width="1"/>
<line x1="586.50" y1="255.25" x2="591.00" y2="255.25" stroke="#4a4a4a" stroke-width="1"/>
<text transform="translate(581.20 255.25) rotate(-90)" text-anchor="middle" font-size="7.3" fill="#2c262c" stroke="#2c262c" stroke-width="0.25">0.10</text>
<line x1="586.50" y1="273.00" x2="591.00" y2="273.00" stroke="#4a4a4a" stroke-width="1"/>
<line x1="586.50" y1="290.50" x2="591.00" y2="290.50" stroke="#4a4a4a" stroke-width="1"/>
<text transform="translate(581.20 290.50) rotate(-90)" text-anchor="middle" font-size="7.3" fill="#2c262c" stroke="#2c262c" stroke-width="0.25">0.00</text>
<text x="652.50" y="306.70" text-anchor="middle" font-size="14" fill="#1a1a1a">Eyes-C-b*</text>
</g>
<g>
<path d="M70.50 369.25 C70.04 370.12 68.92 372.54 67.75 374.50 C66.58 376.46 65.33 378.67 63.50 381.00 C61.67 383.33 59.25 386.12 56.75 388.50 C54.25 390.88 51.42 393.12 48.50 395.25 C45.58 397.38 41.75 399.58 39.25 401.25 C36.75 402.92 34.58 404.00 33.50 405.25 C32.42 406.50 32.50 407.46 32.75 408.75 C33.00 410.04 33.50 411.33 35.00 413.00 C36.50 414.67 39.25 416.67 41.75 418.75 C44.25 420.83 47.21 423.42 50.00 425.50 C52.79 427.58 56.12 429.71 58.50 431.25 C60.88 432.79 62.88 434.04 64.25 434.75 C65.62 435.46 66.33 435.38 66.75 435.50 L84.75 435.50 C85.17 435.38 85.88 435.46 87.25 434.75 C88.62 434.04 90.62 432.79 93.00 431.25 C95.38 429.71 98.71 427.58 101.50 425.50 C104.29 423.42 107.25 420.83 109.75 418.75 C112.25 416.67 115.00 414.67 116.50 413.00 C118.00 411.33 118.50 410.04 118.75 408.75 C119.00 407.46 119.08 406.50 118.00 405.25 C116.92 404.00 114.75 402.92 112.25 401.25 C109.75 399.58 105.92 397.38 103.00 395.25 C100.08 393.12 97.25 390.88 94.75 388.50 C92.25 386.12 89.83 383.33 88.00 381.00 C86.17 378.67 84.92 376.46 83.75 374.50 C82.58 372.54 81.46 370.12 81.00 369.25 Z" fill="#80c4ec" stroke="#2a2a2a" stroke-width="1.0" stroke-linejoin="round"/>
<line x1="75.75" y1="369.25" x2="75.75" y2="435.50" stroke="#111" stroke-width="0.8"/>
<rect x="72.85" y="397.00" width="5.8" height="17.50" fill="#000"/>
<circle cx="75.75" cy="405.75" r="1" fill="#fff"/>
<path d="M73.25 341.25 C73.42 341.75 74.00 343.21 74.25 344.25 C74.50 345.29 74.67 346.12 74.75 347.50 C74.83 348.88 74.96 350.96 74.75 352.50 C74.54 354.04 74.25 355.33 73.50 356.75 C72.75 358.17 71.75 359.33 70.25 361.00 C68.75 362.67 66.75 364.67 64.50 366.75 C62.25 368.83 59.42 371.25 56.75 373.50 C54.08 375.75 51.29 378.00 48.50 380.25 C45.71 382.50 42.38 385.04 40.00 387.00 C37.62 388.96 35.42 390.62 34.25 392.00 C33.08 393.38 32.75 394.17 33.00 395.25 C33.25 396.33 34.00 397.38 35.75 398.50 C37.50 399.62 40.54 400.71 43.50 402.00 C46.46 403.29 50.58 405.00 53.50 406.25 C56.42 407.50 59.04 408.67 61.00 409.50 C62.96 410.33 64.54 410.96 65.25 411.25 L86.25 411.25 C86.96 410.96 88.54 410.33 90.50 409.50 C92.46 408.67 95.08 407.50 98.00 406.25 C100.92 405.00 105.04 403.29 108.00 402.00 C110.96 400.71 114.00 399.62 115.75 398.50 C117.50 397.38 118.25 396.33 118.50 395.25 C118.75 394.17 118.42 393.38 117.25 392.00 C116.08 390.62 113.88 388.96 111.50 387.00 C109.12 385.04 105.79 382.50 103.00 380.25 C100.21 378.00 97.42 375.75 94.75 373.50 C92.08 371.25 89.25 368.83 87.00 366.75 C84.75 364.67 82.75 362.67 81.25 361.00 C79.75 359.33 78.75 358.17 78.00 356.75 C77.25 355.33 76.96 354.04 76.75 352.50 C76.54 350.96 76.67 348.88 76.75 347.50 C76.83 346.12 77.00 345.29 77.25 344.25 C77.50 343.21 78.08 341.75 78.25 341.25 Z" fill="rgba(255,120,0,0.54)" stroke="#2a2a2a" stroke-width="1.0" stroke-linejoin="round"/>
<line x1="75.75" y1="360.25" x2="75.75" y2="411.25" stroke="#111" stroke-width="0.8"/>
<rect x="72.85" y="382.50" width="5.8" height="14.50" fill="#000"/>
<circle cx="75.75" cy="390.00" r="1" fill="#fff"/>
<rect x="18.75" y="320.25" width="114.00" height="133.50" fill="none" stroke="#4a4a4a" stroke-width="1.15"/>
<line x1="14.25" y1="324.50" x2="18.75" y2="324.50" stroke="#4a4a4a" stroke-width="1"/>
<text transform="translate(8.95 324.50) rotate(-90)" text-anchor="middle" font-size="7.3" fill="#2c262c" stroke="#2c262c" stroke-width="0.25">30</text>
<line x1="14.25" y1="351.50" x2="18.75" y2="351.50" stroke="#4a4a4a" stroke-width="1"/>
<text transform="translate(8.95 351.50) rotate(-90)" text-anchor="middle" font-size="7.3" fill="#2c262c" stroke="#2c262c" stroke-width="0.25">25</text>
<line x1="14.25" y1="378.75" x2="18.75" y2="378.75" stroke="#4a4a4a" stroke-width="1"/>
<text transform="translate(8.95 378.75) rotate(-90)" text-anchor="middle" font-size="7.3" fill="#2c262c" stroke="#2c262c" stroke-width="0.25">20</text>
<line x1="14.25" y1="405.50" x2="18.75" y2="405.50" stroke="#4a4a4a" stroke-width="1"/>
<text transform="translate(8.95 405.50) rotate(-90)" text-anchor="middle" font-size="7.3" fill="#2c262c" stroke="#2c262c" stroke-width="0.25">15</text>
<line x1="14.25" y1="432.50" x2="18.75" y2="432.50" stroke="#4a4a4a" stroke-width="1"/>
<text transform="translate(8.95 432.50) rotate(-90)" text-anchor="middle" font-size="7.3" fill="#2c262c" stroke="#2c262c" stroke-width="0.25">10</text>
<text x="80.20" y="466.10" text-anchor="end" font-size="14" fill="#1a1a1a">Eyes-</text>
<path d="M81.40 466.00 L86.97 455.50 L92.55 466.00 Z" fill="none" stroke="#444" stroke-width="0.7"/>
<text x="94.15" y="466.10" text-anchor="start" font-size="14" fill="#1a1a1a">E</text>
</g>
<g>
<path d="M208.75 331.50 C208.38 332.54 207.62 335.46 206.50 337.75 C205.38 340.04 203.83 342.50 202.00 345.25 C200.17 348.00 197.79 351.21 195.50 354.25 C193.21 357.29 190.54 360.42 188.25 363.50 C185.96 366.58 183.58 369.71 181.75 372.75 C179.92 375.79 178.17 379.00 177.25 381.75 C176.33 384.50 176.12 386.92 176.25 389.25 C176.38 391.58 177.25 394.21 178.00 395.75 C178.75 397.29 178.75 396.54 180.75 398.50 C182.75 400.46 186.79 404.17 190.00 407.50 C193.21 410.83 197.08 415.12 200.00 418.50 C202.92 421.88 205.83 425.46 207.50 427.75 C209.17 430.04 209.29 430.88 210.00 432.25 C210.71 433.62 211.46 435.38 211.75 436.00 L225.75 436.00 C226.04 435.38 226.79 433.62 227.50 432.25 C228.21 430.88 228.33 430.04 230.00 427.75 C231.67 425.46 234.58 421.88 237.50 418.50 C240.42 415.12 244.29 410.83 247.50 407.50 C250.71 404.17 254.75 400.46 256.75 398.50 C258.75 396.54 258.75 397.29 259.50 395.75 C260.25 394.21 261.12 391.58 261.25 389.25 C261.38 386.92 261.17 384.50 260.25 381.75 C259.33 379.00 257.58 375.79 255.75 372.75 C253.92 369.71 251.54 366.58 249.25 363.50 C246.96 360.42 244.29 357.29 242.00 354.25 C239.71 351.21 237.33 348.00 235.50 345.25 C233.67 342.50 232.12 340.04 231.00 337.75 C229.88 335.46 229.12 332.54 228.75 331.50 Z" fill="#80c4ec" stroke="#2a2a2a" stroke-width="1.0" stroke-linejoin="round"/>
<line x1="218.75" y1="331.50" x2="218.75" y2="436.00" stroke="#111" stroke-width="0.8"/>
<rect x="215.85" y="365.75" width="5.8" height="28.75" fill="#000"/>
<circle cx="218.75" cy="384.50" r="1" fill="#fff"/>
<path d="M213.00 345.25 C212.38 345.83 210.62 347.25 209.25 348.75 C207.88 350.25 205.88 352.08 204.75 354.25 C203.62 356.42 202.96 359.29 202.50 361.75 C202.04 364.21 202.17 366.88 202.00 369.00 C201.83 371.12 201.96 372.67 201.50 374.50 C201.04 376.33 200.54 378.17 199.25 380.00 C197.96 381.83 195.92 383.50 193.75 385.50 C191.58 387.50 188.54 390.00 186.25 392.00 C183.96 394.00 181.67 395.67 180.00 397.50 C178.33 399.33 176.79 401.33 176.25 403.00 C175.71 404.67 176.00 406.00 176.75 407.50 C177.50 409.00 178.83 410.46 180.75 412.00 C182.67 413.54 185.50 415.04 188.25 416.75 C191.00 418.46 194.50 420.38 197.25 422.25 C200.00 424.12 202.75 426.38 204.75 428.00 C206.75 429.62 208.29 431.17 209.25 432.00 C210.21 432.83 210.29 432.83 210.50 433.00 L227.00 433.00 C227.21 432.83 227.29 432.83 228.25 432.00 C229.21 431.17 230.75 429.62 232.75 428.00 C234.75 426.38 237.50 424.12 240.25 422.25 C243.00 420.38 246.50 418.46 249.25 416.75 C252.00 415.04 254.83 413.54 256.75 412.00 C258.67 410.46 260.00 409.00 260.75 407.50 C261.50 406.00 261.79 404.67 261.25 403.00 C260.71 401.33 259.17 399.33 257.50 397.50 C255.83 395.67 253.54 394.00 251.25 392.00 C248.96 390.00 245.92 387.50 243.75 385.50 C241.58 383.50 239.54 381.83 238.25 380.00 C236.96 378.17 236.46 376.33 236.00 374.50 C235.54 372.67 235.67 371.12 235.50 369.00 C235.33 366.88 235.46 364.21 235.00 361.75 C234.54 359.29 233.88 356.42 232.75 354.25 C231.62 352.08 229.62 350.25 228.25 348.75 C226.88 347.25 225.12 345.83 224.50 345.25 Z" fill="rgba(255,120,0,0.54)" stroke="#2a2a2a" stroke-width="1.0" stroke-linejoin="round"/>
<line x1="218.75" y1="345.25" x2="218.75" y2="433.00" stroke="#111" stroke-width="0.8"/>
<rect x="215.85" y="378.25" width="5.8" height="32.00" fill="#000"/>
<circle cx="218.75" cy="399.50" r="1" fill="#fff"/>
<rect x="161.75" y="320.25" width="114.00" height="133.50" fill="none" stroke="#4a4a4a" stroke-width="1.15"/>
<line x1="157.25" y1="324.50" x2="161.75" y2="324.50" stroke="#4a4a4a" stroke-width="1"/>
<text transform="translate(151.95 324.50) rotate(-90)" text-anchor="middle" font-size="7.3" fill="#2c262c" stroke="#2c262c" stroke-width="0.25">0.30</text>
<line x1="157.25" y1="345.25" x2="161.75" y2="345.25" stroke="#4a4a4a" stroke-width="1"/>
<text transform="translate(151.95 345.25) rotate(-90)" text-anchor="middle" font-size="7.3" fill="#2c262c" stroke="#2c262c" stroke-width="0.25">0.25</text>
<line x1="157.25" y1="366.00" x2="161.75" y2="366.00" stroke="#4a4a4a" stroke-width="1"/>
<text transform="translate(151.95 366.00) rotate(-90)" text-anchor="middle" font-size="7.3" fill="#2c262c" stroke="#2c262c" stroke-width="0.25">0.20</text>
<line x1="157.25" y1="386.75" x2="161.75" y2="386.75" stroke="#4a4a4a" stroke-width="1"/>
<text transform="translate(151.95 386.75) rotate(-90)" text-anchor="middle" font-size="7.3" fill="#2c262c" stroke="#2c262c" stroke-width="0.25">0.15</text>
<line x1="157.25" y1="407.50" x2="161.75" y2="407.50" stroke="#4a4a4a" stroke-width="1"/>
<text transform="translate(151.95 407.50) rotate(-90)" text-anchor="middle" font-size="7.3" fill="#2c262c" stroke="#2c262c" stroke-width="0.25">0.10</text>
<line x1="157.25" y1="428.25" x2="161.75" y2="428.25" stroke="#4a4a4a" stroke-width="1"/>
<text transform="translate(151.95 428.25) rotate(-90)" text-anchor="middle" font-size="7.3" fill="#2c262c" stroke="#2c262c" stroke-width="0.25">0.05</text>
<line x1="157.25" y1="448.75" x2="161.75" y2="448.75" stroke="#4a4a4a" stroke-width="1"/>
<text transform="translate(151.95 448.75) rotate(-90)" text-anchor="middle" font-size="7.3" fill="#2c262c" stroke="#2c262c" stroke-width="0.25">0.00</text>
<text x="222.60" y="466.10" text-anchor="middle" font-size="14" fill="#1a1a1a">Brows-C-L*</text>
</g>
<g>
<path d="M352.25 390.00 C351.96 390.96 351.12 393.75 350.50 395.75 C349.88 397.75 349.46 399.92 348.50 402.00 C347.54 404.08 346.62 406.17 344.75 408.25 C342.88 410.33 339.75 412.42 337.25 414.50 C334.75 416.58 332.04 418.67 329.75 420.75 C327.46 422.83 325.17 425.12 323.50 427.00 C321.83 428.88 320.50 430.54 319.75 432.00 C319.00 433.46 318.79 434.50 319.00 435.75 C319.21 437.00 319.83 438.25 321.00 439.50 C322.17 440.75 324.12 442.00 326.00 443.25 C327.88 444.50 330.58 446.08 332.25 447.00 C333.92 447.92 335.38 448.46 336.00 448.75 L387.50 448.75 C388.12 448.46 389.58 447.92 391.25 447.00 C392.92 446.08 395.62 444.50 397.50 443.25 C399.38 442.00 401.33 440.75 402.50 439.50 C403.67 438.25 404.29 437.00 404.50 435.75 C404.71 434.50 404.50 433.46 403.75 432.00 C403.00 430.54 401.67 428.88 400.00 427.00 C398.33 425.12 396.04 422.83 393.75 420.75 C391.46 418.67 388.75 416.58 386.25 414.50 C383.75 412.42 380.62 410.33 378.75 408.25 C376.88 406.17 375.96 404.08 375.00 402.00 C374.04 399.92 373.62 397.75 373.00 395.75 C372.38 393.75 371.54 390.96 371.25 390.00 Z" fill="#80c4ec" stroke="#2a2a2a" stroke-width="1.0" stroke-linejoin="round"/>
<line x1="361.75" y1="390.00" x2="361.75" y2="448.75" stroke="#111" stroke-width="0.8"/>
<rect x="358.85" y="422.00" width="5.8" height="17.50" fill="#000"/>
<circle cx="361.75" cy="434.50" r="1" fill="#fff"/>
<path d="M352.25 343.00 C351.42 344.50 349.33 348.62 347.25 352.00 C345.17 355.38 342.04 359.50 339.75 363.25 C337.46 367.00 335.04 370.75 333.50 374.50 C331.96 378.25 331.33 382.00 330.50 385.75 C329.67 389.50 329.67 393.25 328.50 397.00 C327.33 400.75 324.96 404.92 323.50 408.25 C322.04 411.58 320.50 414.50 319.75 417.00 C319.00 419.50 318.58 421.17 319.00 423.25 C319.42 425.33 320.67 427.21 322.25 429.50 C323.83 431.79 326.42 434.50 328.50 437.00 C330.58 439.50 332.88 442.54 334.75 444.50 C336.62 446.46 338.92 448.04 339.75 448.75 L383.75 448.75 C384.58 448.04 386.88 446.46 388.75 444.50 C390.62 442.54 392.92 439.50 395.00 437.00 C397.08 434.50 399.67 431.79 401.25 429.50 C402.83 427.21 404.08 425.33 404.50 423.25 C404.92 421.17 404.50 419.50 403.75 417.00 C403.00 414.50 401.46 411.58 400.00 408.25 C398.54 404.92 396.17 400.75 395.00 397.00 C393.83 393.25 393.83 389.50 393.00 385.75 C392.17 382.00 391.54 378.25 390.00 374.50 C388.46 370.75 386.04 367.00 383.75 363.25 C381.46 359.50 378.33 355.38 376.25 352.00 C374.17 348.62 372.08 344.50 371.25 343.00 Z" fill="rgba(255,120,0,0.54)" stroke="#2a2a2a" stroke-width="1.0" stroke-linejoin="round"/>
<line x1="361.75" y1="343.00" x2="361.75" y2="448.75" stroke="#111" stroke-width="0.8"/>
<rect x="358.85" y="379.00" width="5.8" height="50.00" fill="#000"/>
<circle cx="361.75" cy="410.00" r="1" fill="#fff"/>
<rect x="304.75" y="320.25" width="114.25" height="133.50" fill="none" stroke="#4a4a4a" stroke-width="1.15"/>
<line x1="300.25" y1="325.25" x2="304.75" y2="325.25" stroke="#4a4a4a" stroke-width="1"/>
<line x1="300.25" y1="343.00" x2="304.75" y2="343.00" stroke="#4a4a4a" stroke-width="1"/>
<text transform="translate(294.95 343.00) rotate(-90)" text-anchor="middle" font-size="7.3" fill="#2c262c" stroke="#2c262c" stroke-width="0.25">0.30</text>
<line x1="300.25" y1="360.75" x2="304.75" y2="360.75" stroke="#4a4a4a" stroke-width="1"/>
<line x1="300.25" y1="378.25" x2="304.75" y2="378.25" stroke="#4a4a4a" stroke-width="1"/>
<text transform="translate(294.95 378.25) rotate(-90)" text-anchor="middle" font-size="7.3" fill="#2c262c" stroke="#2c262c" stroke-width="0.25">0.20</text>
<line x1="300.25" y1="395.75" x2="304.75" y2="395.75" stroke="#4a4a4a" stroke-width="1"/>
<line x1="300.25" y1="413.25" x2="304.75" y2="413.25" stroke="#4a4a4a" stroke-width="1"/>
<text transform="translate(294.95 413.25) rotate(-90)" text-anchor="middle" font-size="7.3" fill="#2c262c" stroke="#2c262c" stroke-width="0.25">0.10</text>
<line x1="300.25" y1="431.25" x2="304.75" y2="431.25" stroke="#4a4a4a" stroke-width="1"/>
<line x1="300.25" y1="448.75" x2="304.75" y2="448.75" stroke="#4a4a4a" stroke-width="1"/>
<text transform="translate(294.95 448.75) rotate(-90)" text-anchor="middle" font-size="7.3" fill="#2c262c" stroke="#2c262c" stroke-width="0.25">0.00</text>
<text x="364.70" y="466.10" text-anchor="middle" font-size="14" fill="#1a1a1a">Brows-C-a*</text>
</g>
<g>
<path d="M504.00 367.50 C503.71 368.50 502.88 371.50 502.25 373.50 C501.62 375.50 501.04 377.25 500.25 379.50 C499.46 381.75 498.21 384.54 497.50 387.00 C496.79 389.46 496.38 391.88 496.00 394.25 C495.62 396.62 495.50 399.12 495.25 401.25 C495.00 403.38 494.96 405.12 494.50 407.00 C494.04 408.88 493.62 410.83 492.50 412.50 C491.38 414.17 490.21 415.42 487.75 417.00 C485.29 418.58 481.08 420.33 477.75 422.00 C474.42 423.67 470.25 425.33 467.75 427.00 C465.25 428.67 463.71 430.54 462.75 432.00 C461.79 433.46 461.58 434.50 462.00 435.75 C462.42 437.00 463.67 438.25 465.25 439.50 C466.83 440.75 469.42 442.08 471.50 443.25 C473.58 444.42 476.71 445.96 477.75 446.50 L531.75 446.50 C532.79 445.96 535.92 444.42 538.00 443.25 C540.08 442.08 542.67 440.75 544.25 439.50 C545.83 438.25 547.08 437.00 547.50 435.75 C547.92 434.50 547.71 433.46 546.75 432.00 C545.79 430.54 544.25 428.67 541.75 427.00 C539.25 425.33 535.08 423.67 531.75 422.00 C528.42 420.33 524.21 418.58 521.75 417.00 C519.29 415.42 518.12 414.17 517.00 412.50 C515.88 410.83 515.46 408.88 515.00 407.00 C514.54 405.12 514.50 403.38 514.25 401.25 C514.00 399.12 513.88 396.62 513.50 394.25 C513.12 391.88 512.71 389.46 512.00 387.00 C511.29 384.54 510.04 381.75 509.25 379.50 C508.46 377.25 507.88 375.50 507.25 373.50 C506.62 371.50 505.79 368.50 505.50 367.50 Z" fill="#80c4ec" stroke="#2a2a2a" stroke-width="1.0" stroke-linejoin="round"/>
<line x1="504.75" y1="367.50" x2="504.75" y2="446.50" stroke="#111" stroke-width="0.8"/>
<rect x="501.85" y="420.25" width="5.8" height="19.25" fill="#000"/>
<circle cx="504.75" cy="431.50" r="1" fill="#fff"/>
<path d="M494.00 335.25 C493.25 336.00 490.92 337.92 489.50 339.75 C488.08 341.58 486.79 344.12 485.50 346.25 C484.21 348.38 483.08 350.50 481.75 352.50 C480.42 354.50 479.38 356.38 477.50 358.25 C475.62 360.12 472.71 361.75 470.50 363.75 C468.29 365.75 465.71 368.25 464.25 370.25 C462.79 372.25 461.88 373.88 461.75 375.75 C461.62 377.62 462.50 379.50 463.50 381.50 C464.50 383.50 466.12 385.62 467.75 387.75 C469.38 389.88 471.38 392.25 473.25 394.25 C475.12 396.25 477.58 398.58 479.00 399.75 C480.42 400.92 481.29 401.00 481.75 401.25 L527.75 401.25 C528.21 401.00 529.08 400.92 530.50 399.75 C531.92 398.58 534.38 396.25 536.25 394.25 C538.12 392.25 540.12 389.88 541.75 387.75 C543.38 385.62 545.00 383.50 546.00 381.50 C547.00 379.50 547.88 377.62 547.75 375.75 C547.62 373.88 546.71 372.25 545.25 370.25 C543.79 368.25 541.21 365.75 539.00 363.75 C536.79 361.75 533.88 360.12 532.00 358.25 C530.12 356.38 529.08 354.50 527.75 352.50 C526.42 350.50 525.29 348.38 524.00 346.25 C522.71 344.12 521.42 341.58 520.00 339.75 C518.58 337.92 516.25 336.00 515.50 335.25 Z" fill="rgba(255,120,0,0.54)" stroke="#2a2a2a" stroke-width="1.0" stroke-linejoin="round"/>
<line x1="504.75" y1="335.25" x2="504.75" y2="400.75" stroke="#111" stroke-width="0.8"/>
<rect x="501.85" y="359.75" width="5.8" height="29.25" fill="#000"/>
<circle cx="504.75" cy="374.50" r="1" fill="#fff"/>
<rect x="447.75" y="320.25" width="114.25" height="133.50" fill="none" stroke="#4a4a4a" stroke-width="1.15"/>
<line x1="443.25" y1="324.50" x2="447.75" y2="324.50" stroke="#4a4a4a" stroke-width="1"/>
<text transform="translate(437.95 324.50) rotate(-90)" text-anchor="middle" font-size="7.3" fill="#2c262c" stroke="#2c262c" stroke-width="0.25">0.30</text>
<line x1="443.25" y1="345.25" x2="447.75" y2="345.25" stroke="#4a4a4a" stroke-width="1"/>
<text transform="translate(437.95 345.25) rotate(-90)" text-anchor="middle" font-size="7.3" fill="#2c262c" stroke="#2c262c" stroke-width="0.25">0.25</text>
<line x1="443.25" y1="366.00" x2="447.75" y2="366.00" stroke="#4a4a4a" stroke-width="1"/>
<text transform="translate(437.95 366.00) rotate(-90)" text-anchor="middle" font-size="7.3" fill="#2c262c" stroke="#2c262c" stroke-width="0.25">0.20</text>
<line x1="443.25" y1="386.75" x2="447.75" y2="386.75" stroke="#4a4a4a" stroke-width="1"/>
<text transform="translate(437.95 386.75) rotate(-90)" text-anchor="middle" font-size="7.3" fill="#2c262c" stroke="#2c262c" stroke-width="0.25">0.15</text>
<line x1="443.25" y1="407.50" x2="447.75" y2="407.50" stroke="#4a4a4a" stroke-width="1"/>
<text transform="translate(437.95 407.50) rotate(-90)" text-anchor="middle" font-size="7.3" fill="#2c262c" stroke="#2c262c" stroke-width="0.25">0.10</text>
<line x1="443.25" y1="428.25" x2="447.75" y2="428.25" stroke="#4a4a4a" stroke-width="1"/>
<text transform="translate(437.95 428.25) rotate(-90)" text-anchor="middle" font-size="7.3" fill="#2c262c" stroke="#2c262c" stroke-width="0.25">0.05</text>
<line x1="443.25" y1="448.75" x2="447.75" y2="448.75" stroke="#4a4a4a" stroke-width="1"/>
<text transform="translate(437.95 448.75) rotate(-90)" text-anchor="middle" font-size="7.3" fill="#2c262c" stroke="#2c262c" stroke-width="0.25">0.00</text>
<text x="507.80" y="466.10" text-anchor="middle" font-size="14" fill="#1a1a1a">Brows-C-b*</text>
</g>
<g>
<path d="M639.50 337.75 C638.88 338.33 637.25 339.75 635.75 341.25 C634.25 342.75 632.54 344.54 630.50 346.75 C628.46 348.96 626.00 351.58 623.50 354.50 C621.00 357.42 617.83 361.04 615.50 364.25 C613.17 367.46 611.08 370.71 609.50 373.75 C607.92 376.79 606.71 380.00 606.00 382.50 C605.29 385.00 604.83 387.12 605.25 388.75 C605.67 390.38 606.79 390.50 608.50 392.25 C610.21 394.00 612.88 396.62 615.50 399.25 C618.12 401.88 621.33 405.08 624.25 408.00 C627.17 410.92 630.50 414.25 633.00 416.75 C635.50 419.25 637.96 421.38 639.25 423.00 C640.54 424.62 640.33 425.21 640.75 426.50 C641.17 427.79 641.58 430.04 641.75 430.75 L654.75 430.75 C654.92 430.04 655.33 427.79 655.75 426.50 C656.17 425.21 655.96 424.62 657.25 423.00 C658.54 421.38 661.00 419.25 663.50 416.75 C666.00 414.25 669.33 410.92 672.25 408.00 C675.17 405.08 678.38 401.88 681.00 399.25 C683.62 396.62 686.29 394.00 688.00 392.25 C689.71 390.50 690.83 390.38 691.25 388.75 C691.67 387.12 691.21 385.00 690.50 382.50 C689.79 380.00 688.58 376.79 687.00 373.75 C685.42 370.71 683.33 367.46 681.00 364.25 C678.67 361.04 675.50 357.42 673.00 354.50 C670.50 351.58 668.04 348.96 666.00 346.75 C663.96 344.54 662.25 342.75 660.75 341.25 C659.25 339.75 657.62 338.33 657.00 337.75 Z" fill="#80c4ec" stroke="#2a2a2a" stroke-width="1.0" stroke-linejoin="round"/>
<line x1="648.25" y1="337.75" x2="648.25" y2="430.75" stroke="#111" stroke-width="0.8"/>
<rect x="645.35" y="365.00" width="5.8" height="29.50" fill="#000"/>
<circle cx="648.25" cy="384.50" r="1" fill="#fff"/>
<path d="M644.50 349.50 C643.92 350.21 642.46 352.04 641.00 353.75 C639.54 355.46 637.50 357.88 635.75 359.75 C634.00 361.62 631.75 363.25 630.50 365.00 C629.25 366.75 628.71 368.62 628.25 370.25 C627.79 371.88 628.12 373.42 627.75 374.75 C627.38 376.08 627.17 376.79 626.00 378.25 C624.83 379.71 622.79 381.75 620.75 383.50 C618.71 385.25 615.92 387.00 613.75 388.75 C611.58 390.50 609.17 392.54 607.75 394.00 C606.33 395.46 605.54 396.33 605.25 397.50 C604.96 398.67 605.17 399.67 606.00 401.00 C606.83 402.33 608.08 403.88 610.25 405.50 C612.42 407.12 616.08 409.00 619.00 410.75 C621.92 412.50 624.96 414.25 627.75 416.00 C630.54 417.75 633.71 419.67 635.75 421.25 C637.79 422.83 639.29 424.79 640.00 425.50 L656.50 425.50 C657.21 424.79 658.71 422.83 660.75 421.25 C662.79 419.67 665.96 417.75 668.75 416.00 C671.54 414.25 674.58 412.50 677.50 410.75 C680.42 409.00 684.08 407.12 686.25 405.50 C688.42 403.88 689.67 402.33 690.50 401.00 C691.33 399.67 691.54 398.67 691.25 397.50 C690.96 396.33 690.17 395.46 688.75 394.00 C687.33 392.54 684.92 390.50 682.75 388.75 C680.58 387.00 677.79 385.25 675.75 383.50 C673.71 381.75 671.67 379.71 670.50 378.25 C669.33 376.79 669.12 376.08 668.75 374.75 C668.38 373.42 668.71 371.88 668.25 370.25 C667.79 368.62 667.25 366.75 666.00 365.00 C664.75 363.25 662.50 361.62 660.75 359.75 C659.00 357.88 656.96 355.46 655.50 353.75 C654.04 352.04 652.58 350.21 652.00 349.50 Z" fill="rgba(255,120,0,0.54)" stroke="#2a2a2a" stroke-width="1.0" stroke-linejoin="round"/>
<line x1="648.25" y1="349.50" x2="648.25" y2="425.50" stroke="#111" stroke-width="0.8"/>
<rect x="645.35" y="377.50" width="5.8" height="27.50" fill="#000"/>
<circle cx="648.25" cy="395.00" r="1" fill="#fff"/>
<rect x="591.00" y="320.25" width="114.25" height="133.50" fill="none" stroke="#4a4a4a" stroke-width="1.15"/>
<line x1="586.50" y1="324.50" x2="591.00" y2="324.50" stroke="#4a4a4a" stroke-width="1"/>
<text transform="translate(581.20 324.50) rotate(-90)" text-anchor="middle" font-size="7.3" fill="#2c262c" stroke="#2c262c" stroke-width="0.25">30</text>
<line x1="586.50" y1="345.25" x2="591.00" y2="345.25" stroke="#4a4a4a" stroke-width="1"/>
<text transform="translate(581.20 345.25) rotate(-90)" text-anchor="middle" font-size="7.3" fill="#2c262c" stroke="#2c262c" stroke-width="0.25">25</text>
<line x1="586.50" y1="366.00" x2="591.00" y2="366.00" stroke="#4a4a4a" stroke-width="1"/>
<text transform="translate(581.20 366.00) rotate(-90)" text-anchor="middle" font-size="7.3" fill="#2c262c" stroke="#2c262c" stroke-width="0.25">20</text>
<line x1="586.50" y1="386.75" x2="591.00" y2="386.75" stroke="#4a4a4a" stroke-width="1"/>
<text transform="translate(581.20 386.75) rotate(-90)" text-anchor="middle" font-size="7.3" fill="#2c262c" stroke="#2c262c" stroke-width="0.25">15</text>
<line x1="586.50" y1="407.50" x2="591.00" y2="407.50" stroke="#4a4a4a" stroke-width="1"/>
<text transform="translate(581.20 407.50) rotate(-90)" text-anchor="middle" font-size="7.3" fill="#2c262c" stroke="#2c262c" stroke-width="0.25">10</text>
<line x1="586.50" y1="428.25" x2="591.00" y2="428.25" stroke="#4a4a4a" stroke-width="1"/>
<text transform="translate(581.20 428.25) rotate(-90)" text-anchor="middle" font-size="7.3" fill="#2c262c" stroke="#2c262c" stroke-width="0.25">5</text>
<line x1="586.50" y1="448.75" x2="591.00" y2="448.75" stroke="#4a4a4a" stroke-width="1"/>
<text transform="translate(581.20 448.75) rotate(-90)" text-anchor="middle" font-size="7.3" fill="#2c262c" stroke="#2c262c" stroke-width="0.25">0</text>
<text x="658.70" y="466.10" text-anchor="end" font-size="14" fill="#1a1a1a">Brows-</text>
<path d="M659.60 466.00 L665.52 455.50 L671.45 466.00 Z" fill="none" stroke="#444" stroke-width="0.7"/>
<text x="673.05" y="466.10" text-anchor="start" font-size="14" fill="#1a1a1a">E</text>
</g>
<g>
<path d="M68.75 511.00 C68.75 512.12 68.83 515.54 68.75 517.75 C68.67 519.96 68.58 522.25 68.25 524.25 C67.92 526.25 67.71 528.04 66.75 529.75 C65.79 531.46 64.42 532.92 62.50 534.50 C60.58 536.08 57.79 537.54 55.25 539.25 C52.71 540.96 49.75 542.88 47.25 544.75 C44.75 546.62 42.21 548.62 40.25 550.50 C38.29 552.38 36.58 554.29 35.50 556.00 C34.42 557.71 33.92 559.42 33.75 560.75 C33.58 562.08 33.46 562.88 34.50 564.00 C35.54 565.12 38.08 566.42 40.00 567.50 C41.92 568.58 45.00 570.00 46.00 570.50 L105.50 570.50 C106.50 570.00 109.58 568.58 111.50 567.50 C113.42 566.42 115.96 565.12 117.00 564.00 C118.04 562.88 117.92 562.08 117.75 560.75 C117.58 559.42 117.08 557.71 116.00 556.00 C114.92 554.29 113.21 552.38 111.25 550.50 C109.29 548.62 106.75 546.62 104.25 544.75 C101.75 542.88 98.79 540.96 96.25 539.25 C93.71 537.54 90.92 536.08 89.00 534.50 C87.08 532.92 85.71 531.46 84.75 529.75 C83.79 528.04 83.58 526.25 83.25 524.25 C82.92 522.25 82.83 519.96 82.75 517.75 C82.67 515.54 82.75 512.12 82.75 511.00 Z" fill="#80c4ec" stroke="#2a2a2a" stroke-width="1.0" stroke-linejoin="round"/>
<line x1="75.75" y1="515.00" x2="75.75" y2="570.75" stroke="#111" stroke-width="0.8"/>
<rect x="72.85" y="544.25" width="5.8" height="20.75" fill="#000"/>
<circle cx="75.75" cy="553.75" r="1" fill="#fff"/>
<path d="M73.50 524.50 C73.46 525.50 73.50 528.58 73.25 530.50 C73.00 532.42 72.88 534.12 72.00 536.00 C71.12 537.88 69.71 539.88 68.00 541.75 C66.29 543.62 64.12 545.42 61.75 547.25 C59.38 549.08 56.67 550.88 53.75 552.75 C50.83 554.62 47.17 556.88 44.25 558.50 C41.33 560.12 38.17 561.38 36.25 562.50 C34.33 563.62 33.17 564.33 32.75 565.25 C32.33 566.17 32.67 566.88 33.75 568.00 C34.83 569.12 36.71 570.54 39.25 572.00 C41.79 573.46 45.79 575.29 49.00 576.75 C52.21 578.21 55.58 579.54 58.50 580.75 C61.42 581.96 64.38 582.96 66.50 584.00 C68.62 585.04 70.12 585.83 71.25 587.00 C72.38 588.17 72.88 589.67 73.25 591.00 C73.62 592.33 73.50 593.71 73.50 595.00 C73.50 596.29 73.29 598.12 73.25 598.75 L78.25 598.75 C78.21 598.12 78.00 596.29 78.00 595.00 C78.00 593.71 77.88 592.33 78.25 591.00 C78.62 589.67 79.12 588.17 80.25 587.00 C81.38 585.83 82.88 585.04 85.00 584.00 C87.12 582.96 90.08 581.96 93.00 580.75 C95.92 579.54 99.29 578.21 102.50 576.75 C105.71 575.29 109.71 573.46 112.25 572.00 C114.79 570.54 116.67 569.12 117.75 568.00 C118.83 566.88 119.17 566.17 118.75 565.25 C118.33 564.33 117.17 563.62 115.25 562.50 C113.33 561.38 110.17 560.12 107.25 558.50 C104.33 556.88 100.67 554.62 97.75 552.75 C94.83 550.88 92.12 549.08 89.75 547.25 C87.38 545.42 85.21 543.62 83.50 541.75 C81.79 539.88 80.38 537.88 79.50 536.00 C78.62 534.12 78.50 532.42 78.25 530.50 C78.00 528.58 78.04 525.50 78.00 524.50 Z" fill="rgba(255,120,0,0.54)" stroke="#2a2a2a" stroke-width="1.0" stroke-linejoin="round"/>
<line x1="75.75" y1="527.50" x2="75.75" y2="595.00" stroke="#111" stroke-width="0.8"/>
<rect x="72.85" y="557.00" width="5.8" height="13.75" fill="#000"/>
<circle cx="75.75" cy="565.50" r="1" fill="#fff"/>
<rect x="18.75" y="478.25" width="114.00" height="133.50" fill="none" stroke="#4a4a4a" stroke-width="1.15"/>
<line x1="14.25" y1="483.25" x2="18.75" y2="483.25" stroke="#4a4a4a" stroke-width="1"/>
<text transform="translate(8.95 483.25) rotate(-90)" text-anchor="middle" font-size="7.3" fill="#2c262c" stroke="#2c262c" stroke-width="0.25">0.20</text>
<line x1="14.25" y1="524.75" x2="18.75" y2="524.75" stroke="#4a4a4a" stroke-width="1"/>
<text transform="translate(8.95 524.75) rotate(-90)" text-anchor="middle" font-size="7.3" fill="#2c262c" stroke="#2c262c" stroke-width="0.25">0.15</text>
<line x1="14.25" y1="566.00" x2="18.75" y2="566.00" stroke="#4a4a4a" stroke-width="1"/>
<text transform="translate(8.95 566.00) rotate(-90)" text-anchor="middle" font-size="7.3" fill="#2c262c" stroke="#2c262c" stroke-width="0.25">0.10</text>
<line x1="14.25" y1="607.50" x2="18.75" y2="607.50" stroke="#4a4a4a" stroke-width="1"/>
<text transform="translate(8.95 607.50) rotate(-90)" text-anchor="middle" font-size="7.3" fill="#2c262c" stroke="#2c262c" stroke-width="0.25">0.05</text>
<text x="80.60" y="623.90" text-anchor="middle" font-size="14" fill="#1a1a1a">Mouth-C-L*</text>
</g>
<g>
<path d="M214.50 488.50 C214.17 489.50 213.29 492.54 212.50 494.50 C211.71 496.46 211.17 498.17 209.75 500.25 C208.33 502.33 206.42 504.58 204.00 507.00 C201.58 509.42 198.12 512.04 195.25 514.75 C192.38 517.46 189.29 520.38 186.75 523.25 C184.21 526.12 181.62 529.29 180.00 532.00 C178.38 534.71 177.42 537.12 177.00 539.50 C176.58 541.88 176.71 544.08 177.50 546.25 C178.29 548.42 180.21 550.58 181.75 552.50 C183.29 554.42 185.00 556.38 186.75 557.75 C188.50 559.12 191.33 560.25 192.25 560.75 L245.25 560.75 C246.17 560.25 249.00 559.12 250.75 557.75 C252.50 556.38 254.21 554.42 255.75 552.50 C257.29 550.58 259.21 548.42 260.00 546.25 C260.79 544.08 260.92 541.88 260.50 539.50 C260.08 537.12 259.12 534.71 257.50 532.00 C255.88 529.29 253.29 526.12 250.75 523.25 C248.21 520.38 245.12 517.46 242.25 514.75 C239.38 512.04 235.92 509.42 233.50 507.00 C231.08 504.58 229.17 502.33 227.75 500.25 C226.33 498.17 225.79 496.46 225.00 494.50 C224.21 492.54 223.33 489.50 223.00 488.50 Z" fill="#80c4ec" stroke="#2a2a2a" stroke-width="1.0" stroke-linejoin="round"/>
<line x1="218.75" y1="488.50" x2="218.75" y2="560.75" stroke="#111" stroke-width="0.8"/>
<rect x="215.85" y="523.75" width="5.8" height="31.25" fill="#000"/>
<circle cx="218.75" cy="536.25" r="1" fill="#fff"/>
<path d="M215.75 508.25 C215.62 509.17 215.38 511.71 215.00 513.75 C214.62 515.79 214.38 518.12 213.50 520.50 C212.62 522.88 211.33 525.46 209.75 528.00 C208.17 530.54 206.42 533.17 204.00 535.75 C201.58 538.33 198.29 541.12 195.25 543.50 C192.21 545.88 188.46 548.08 185.75 550.00 C183.04 551.92 180.54 553.54 179.00 555.00 C177.46 556.46 176.75 557.33 176.50 558.75 C176.25 560.17 176.46 561.75 177.50 563.50 C178.54 565.25 180.58 567.33 182.75 569.25 C184.92 571.17 187.75 573.08 190.50 575.00 C193.25 576.92 196.54 578.83 199.25 580.75 C201.96 582.67 204.54 584.75 206.75 586.50 C208.96 588.25 211.17 589.83 212.50 591.25 C213.83 592.67 214.29 594.12 214.75 595.00 C215.21 595.88 215.17 596.25 215.25 596.50 L222.25 596.50 C222.33 596.25 222.29 595.88 222.75 595.00 C223.21 594.12 223.67 592.67 225.00 591.25 C226.33 589.83 228.54 588.25 230.75 586.50 C232.96 584.75 235.54 582.67 238.25 580.75 C240.96 578.83 244.25 576.92 247.00 575.00 C249.75 573.08 252.58 571.17 254.75 569.25 C256.92 567.33 258.96 565.25 260.00 563.50 C261.04 561.75 261.25 560.17 261.00 558.75 C260.75 557.33 260.04 556.46 258.50 555.00 C256.96 553.54 254.46 551.92 251.75 550.00 C249.04 548.08 245.29 545.88 242.25 543.50 C239.21 541.12 235.92 538.33 233.50 535.75 C231.08 533.17 229.33 530.54 227.75 528.00 C226.17 525.46 224.88 522.88 224.00 520.50 C223.12 518.12 222.88 515.79 222.50 513.75 C222.12 511.71 221.88 509.17 221.75 508.25 Z" fill="rgba(255,120,0,0.54)" stroke="#2a2a2a" stroke-width="1.0" stroke-linejoin="round"/>
<line x1="218.75" y1="508.25" x2="218.75" y2="596.50" stroke="#111" stroke-width="0.8"/>
<rect x="215.85" y="548.00" width="5.8" height="19.00" fill="#000"/>
<circle cx="218.75" cy="558.75" r="1" fill="#fff"/>
<rect x="161.75" y="478.25" width="114.00" height="133.50" fill="none" stroke="#4a4a4a" stroke-width="1.15"/>
<line x1="157.25" y1="483.25" x2="161.75" y2="483.25" stroke="#4a4a4a" stroke-width="1"/>
<text transform="translate(151.95 483.25) rotate(-90)" text-anchor="middle" font-size="7.3" fill="#2c262c" stroke="#2c262c" stroke-width="0.25">0.6</text>
<line x1="157.25" y1="510.75" x2="161.75" y2="510.75" stroke="#4a4a4a" stroke-width="1"/>
<text transform="translate(151.95 510.75) rotate(-90)" text-anchor="middle" font-size="7.3" fill="#2c262c" stroke="#2c262c" stroke-width="0.25">0.5</text>
<line x1="157.25" y1="538.25" x2="161.75" y2="538.25" stroke="#4a4a4a" stroke-width="1"/>
<text transform="translate(151.95 538.25) rotate(-90)" text-anchor="middle" font-size="7.3" fill="#2c262c" stroke="#2c262c" stroke-width="0.25">0.4</text>
<line x1="157.25" y1="566.00" x2="161.75" y2="566.00" stroke="#4a4a4a" stroke-width="1"/>
<text transform="translate(151.95 566.00) rotate(-90)" text-anchor="middle" font-size="7.3" fill="#2c262c" stroke="#2c262c" stroke-width="0.25">0.3</text>
<line x1="157.25" y1="593.25" x2="161.75" y2="593.25" stroke="#4a4a4a" stroke-width="1"/>
<text transform="translate(151.95 593.25) rotate(-90)" text-anchor="middle" font-size="7.3" fill="#2c262c" stroke="#2c262c" stroke-width="0.25">0.2</text>
<text x="223.20" y="623.90" text-anchor="middle" font-size="14" fill="#1a1a1a">Mouth-C-a*</text>
</g>
<g>
<path d="M344.75 514.25 C343.29 515.33 338.92 518.62 336.00 520.75 C333.08 522.88 329.75 525.04 327.25 527.00 C324.75 528.96 322.33 530.75 321.00 532.50 C319.67 534.25 319.54 535.42 319.25 537.50 C318.96 539.58 319.04 542.50 319.25 545.00 C319.46 547.50 319.58 550.00 320.50 552.50 C321.42 555.00 322.79 557.29 324.75 560.00 C326.71 562.71 329.75 566.04 332.25 568.75 C334.75 571.46 337.25 573.75 339.75 576.25 C342.25 578.75 345.38 581.54 347.25 583.75 C349.12 585.96 350.08 588.04 351.00 589.50 C351.92 590.96 352.46 592.00 352.75 592.50 L370.75 592.50 C371.04 592.00 371.58 590.96 372.50 589.50 C373.42 588.04 374.38 585.96 376.25 583.75 C378.12 581.54 381.25 578.75 383.75 576.25 C386.25 573.75 388.75 571.46 391.25 568.75 C393.75 566.04 396.79 562.71 398.75 560.00 C400.71 557.29 402.08 555.00 403.00 552.50 C403.92 550.00 404.04 547.50 404.25 545.00 C404.46 542.50 404.54 539.58 404.25 537.50 C403.96 535.42 403.83 534.25 402.50 532.50 C401.17 530.75 398.75 528.96 396.25 527.00 C393.75 525.04 390.42 522.88 387.50 520.75 C384.58 518.62 380.21 515.33 378.75 514.25 Z" fill="#80c4ec" stroke="#2a2a2a" stroke-width="1.0" stroke-linejoin="round"/>
<line x1="361.75" y1="514.25" x2="361.75" y2="592.50" stroke="#111" stroke-width="0.8"/>
<rect x="358.85" y="540.00" width="5.8" height="21.25" fill="#000"/>
<circle cx="361.75" cy="547.50" r="1" fill="#fff"/>
<path d="M354.75 499.50 C354.12 500.62 352.67 503.88 351.00 506.25 C349.33 508.62 347.25 511.25 344.75 513.75 C342.25 516.25 339.12 518.75 336.00 521.25 C332.88 523.75 328.58 526.67 326.00 528.75 C323.42 530.83 321.62 532.29 320.50 533.75 C319.38 535.21 318.96 536.25 319.25 537.50 C319.54 538.75 320.50 539.79 322.25 541.25 C324.00 542.71 326.83 544.38 329.75 546.25 C332.67 548.12 336.62 550.21 339.75 552.50 C342.88 554.79 346.21 557.71 348.50 560.00 C350.79 562.29 352.33 564.38 353.50 566.25 C354.67 568.12 355.00 569.92 355.50 571.25 C356.00 572.58 356.33 573.75 356.50 574.25 L367.00 574.25 C367.17 573.75 367.50 572.58 368.00 571.25 C368.50 569.92 368.83 568.12 370.00 566.25 C371.17 564.38 372.71 562.29 375.00 560.00 C377.29 557.71 380.62 554.79 383.75 552.50 C386.88 550.21 390.83 548.12 393.75 546.25 C396.67 544.38 399.50 542.71 401.25 541.25 C403.00 539.79 403.96 538.75 404.25 537.50 C404.54 536.25 404.12 535.21 403.00 533.75 C401.88 532.29 400.08 530.83 397.50 528.75 C394.92 526.67 390.62 523.75 387.50 521.25 C384.38 518.75 381.25 516.25 378.75 513.75 C376.25 511.25 374.17 508.62 372.50 506.25 C370.83 503.88 369.38 500.62 368.75 499.50 Z" fill="rgba(255,120,0,0.54)" stroke="#2a2a2a" stroke-width="1.0" stroke-linejoin="round"/>
<line x1="361.75" y1="501.25" x2="361.75" y2="574.25" stroke="#111" stroke-width="0.8"/>
<rect x="358.85" y="527.00" width="5.8" height="17.25" fill="#000"/>
<circle cx="361.75" cy="535.50" r="1" fill="#fff"/>
<rect x="304.75" y="478.25" width="114.25" height="133.50" fill="none" stroke="#4a4a4a" stroke-width="1.15"/>
<line x1="300.25" y1="483.25" x2="304.75" y2="483.25" stroke="#4a4a4a" stroke-width="1"/>
<text transform="translate(294.95 483.25) rotate(-90)" text-anchor="middle" font-size="7.3" fill="#2c262c" stroke="#2c262c" stroke-width="0.25">0.30</text>
<line x1="300.25" y1="504.00" x2="304.75" y2="504.00" stroke="#4a4a4a" stroke-width="1"/>
<text transform="translate(294.95 504.00) rotate(-90)" text-anchor="middle" font-size="7.3" fill="#2c262c" stroke="#2c262c" stroke-width="0.25">0.25</text>
<line x1="300.25" y1="524.75" x2="304.75" y2="524.75" stroke="#4a4a4a" stroke-width="1"/>
<text transform="translate(294.95 524.75) rotate(-90)" text-anchor="middle" font-size="7.3" fill="#2c262c" stroke="#2c262c" stroke-width="0.25">0.20</text>
<line x1="300.25" y1="545.50" x2="304.75" y2="545.50" stroke="#4a4a4a" stroke-width="1"/>
<text transform="translate(294.95 545.50) rotate(-90)" text-anchor="middle" font-size="7.3" fill="#2c262c" stroke="#2c262c" stroke-width="0.25">0.15</text>
<line x1="300.25" y1="566.00" x2="304.75" y2="566.00" stroke="#4a4a4a" stroke-width="1"/>
<text transform="translate(294.95 566.00) rotate(-90)" text-anchor="middle" font-size="7.3" fill="#2c262c" stroke="#2c262c" stroke-width="0.25">0.10</text>
<line x1="300.25" y1="586.75" x2="304.75" y2="586.75" stroke="#4a4a4a" stroke-width="1"/>
<text transform="translate(294.95 586.75) rotate(-90)" text-anchor="middle" font-size="7.3" fill="#2c262c" stroke="#2c262c" stroke-width="0.25">0.05</text>
<line x1="300.25" y1="607.50" x2="304.75" y2="607.50" stroke="#4a4a4a" stroke-width="1"/>
<text transform="translate(294.95 607.50) rotate(-90)" text-anchor="middle" font-size="7.3" fill="#2c262c" stroke="#2c262c" stroke-width="0.25">0.00</text>
<text x="366.00" y="623.90" text-anchor="middle" font-size="14" fill="#1a1a1a">Mouth-C-b*</text>
</g>
<g>
<path d="M499.00 500.25 C498.79 501.04 498.08 503.08 497.75 505.00 C497.42 506.92 497.42 509.50 497.00 511.75 C496.58 514.00 496.25 516.29 495.25 518.50 C494.25 520.71 492.67 522.92 491.00 525.00 C489.33 527.08 487.62 528.88 485.25 531.00 C482.88 533.12 479.42 535.67 476.75 537.75 C474.08 539.83 471.33 541.54 469.25 543.50 C467.17 545.46 465.46 547.38 464.25 549.50 C463.04 551.62 462.21 554.17 462.00 556.25 C461.79 558.33 462.21 560.08 463.00 562.00 C463.79 563.92 465.29 566.08 466.75 567.75 C468.21 569.42 469.79 570.75 471.75 572.00 C473.71 573.25 477.38 574.71 478.50 575.25 L531.00 575.25 C532.12 574.71 535.79 573.25 537.75 572.00 C539.71 570.75 541.29 569.42 542.75 567.75 C544.21 566.08 545.71 563.92 546.50 562.00 C547.29 560.08 547.71 558.33 547.50 556.25 C547.29 554.17 546.46 551.62 545.25 549.50 C544.04 547.38 542.33 545.46 540.25 543.50 C538.17 541.54 535.42 539.83 532.75 537.75 C530.08 535.67 526.62 533.12 524.25 531.00 C521.88 528.88 520.17 527.08 518.50 525.00 C516.83 522.92 515.25 520.71 514.25 518.50 C513.25 516.29 512.92 514.00 512.50 511.75 C512.08 509.50 512.08 506.92 511.75 505.00 C511.42 503.08 510.71 501.04 510.50 500.25 Z" fill="#80c4ec" stroke="#2a2a2a" stroke-width="1.0" stroke-linejoin="round"/>
<line x1="504.75" y1="507.50" x2="504.75" y2="575.25" stroke="#111" stroke-width="0.8"/>
<rect x="501.85" y="542.00" width="5.8" height="28.00" fill="#000"/>
<circle cx="504.75" cy="551.25" r="1" fill="#fff"/>
<path d="M501.75 524.25 C501.71 524.96 501.79 526.67 501.50 528.50 C501.21 530.33 500.92 533.00 500.00 535.25 C499.08 537.50 497.62 539.79 496.00 542.00 C494.38 544.21 492.33 546.29 490.25 548.50 C488.17 550.71 486.04 553.00 483.50 555.25 C480.96 557.50 477.79 559.92 475.00 562.00 C472.21 564.08 468.83 566.21 466.75 567.75 C464.67 569.29 463.29 570.25 462.50 571.25 C461.71 572.25 461.71 572.79 462.00 573.75 C462.29 574.71 462.92 575.62 464.25 577.00 C465.58 578.38 467.62 580.33 470.00 582.00 C472.38 583.67 475.96 585.54 478.50 587.00 C481.04 588.46 483.67 589.83 485.25 590.75 C486.83 591.67 487.54 592.21 488.00 592.50 L521.50 592.50 C521.96 592.21 522.67 591.67 524.25 590.75 C525.83 589.83 528.46 588.46 531.00 587.00 C533.54 585.54 537.12 583.67 539.50 582.00 C541.88 580.33 543.92 578.38 545.25 577.00 C546.58 575.62 547.21 574.71 547.50 573.75 C547.79 572.79 547.79 572.25 547.00 571.25 C546.21 570.25 544.83 569.29 542.75 567.75 C540.67 566.21 537.29 564.08 534.50 562.00 C531.71 559.92 528.54 557.50 526.00 555.25 C523.46 553.00 521.33 550.71 519.25 548.50 C517.17 546.29 515.12 544.21 513.50 542.00 C511.88 539.79 510.42 537.50 509.50 535.25 C508.58 533.00 508.29 530.33 508.00 528.50 C507.71 526.67 507.79 524.96 507.75 524.25 Z" fill="rgba(255,120,0,0.54)" stroke="#2a2a2a" stroke-width="1.0" stroke-linejoin="round"/>
<line x1="504.75" y1="524.25" x2="504.75" y2="592.50" stroke="#111" stroke-width="0.8"/>
<rect x="501.85" y="558.00" width="5.8" height="21.25" fill="#000"/>
<circle cx="504.75" cy="572.50" r="1" fill="#fff"/>
<rect x="447.75" y="478.25" width="114.25" height="133.50" fill="none" stroke="#4a4a4a" stroke-width="1.15"/>
<line x1="443.25" y1="498.00" x2="447.75" y2="498.00" stroke="#4a4a4a" stroke-width="1"/>
<text transform="translate(437.95 498.00) rotate(-90)" text-anchor="middle" font-size="7.3" fill="#2c262c" stroke="#2c262c" stroke-width="0.25">25</text>
<line x1="443.25" y1="534.50" x2="447.75" y2="534.50" stroke="#4a4a4a" stroke-width="1"/>
<text transform="translate(437.95 534.50) rotate(-90)" text-anchor="middle" font-size="7.3" fill="#2c262c" stroke="#2c262c" stroke-width="0.25">20</text>
<line x1="443.25" y1="570.75" x2="447.75" y2="570.75" stroke="#4a4a4a" stroke-width="1"/>
<text transform="translate(437.95 570.75) rotate(-90)" text-anchor="middle" font-size="7.3" fill="#2c262c" stroke="#2c262c" stroke-width="0.25">15</text>
<line x1="443.25" y1="607.25" x2="447.75" y2="607.25" stroke="#4a4a4a" stroke-width="1"/>
<text transform="translate(437.95 607.25) rotate(-90)" text-anchor="middle" font-size="7.3" fill="#2c262c" stroke="#2c262c" stroke-width="0.25">10</text>
<text x="516.20" y="623.90" text-anchor="end" font-size="14" fill="#1a1a1a">Mouth-</text>
<path d="M517.40 623.80 L523.25 613.30 L529.10 623.80 Z" fill="none" stroke="#444" stroke-width="0.7"/>
<text x="530.40" y="623.90" text-anchor="start" font-size="14" fill="#1a1a1a">E</text>
</g>
<rect x="603.8" y="543.4" width="4.2" height="4.2" fill="#6fbcec"/>
<text x="612.3" y="550.3" font-size="14.2" fill="#111">CA</text>
<rect x="656.8" y="543.4" width="4.2" height="4.2" fill="#ffa45a"/>
<text x="664.8" y="550.3" font-size="14.2" fill="#111">CN</text>
</svg>
</body></html>
